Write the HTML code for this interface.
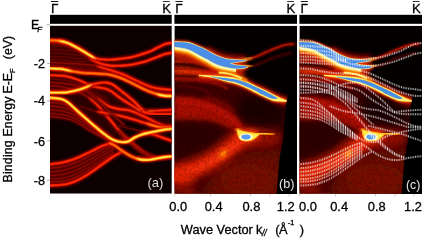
<!DOCTYPE html>
<html><head><meta charset="utf-8"><style>
html,body{margin:0;padding:0;background:#fff;}
body{width:426px;height:240px;overflow:hidden;}
svg{display:block;will-change:transform;}
text{font-family:"Liberation Sans",sans-serif;}
.bk text{stroke:#000;stroke-width:0.3px;}
</style></head><body>
<svg width="426" height="240" viewBox="0 0 426 240">
<defs>
<filter id="grain" x="0" y="0" width="1" height="1"><feTurbulence type="fractalNoise" baseFrequency="0.38" numOctaves="2" seed="5"/><feColorMatrix type="matrix" values="0 0 0 0 0  0 0 0 0 0  0 0 0 0 0  -2.0 0 0 0 1.15"/></filter>
<filter id="bl05" x="-20%" y="-20%" width="140%" height="140%"><feGaussianBlur stdDeviation="0.5"/></filter>
<filter id="bl08" x="-20%" y="-20%" width="140%" height="140%"><feGaussianBlur stdDeviation="0.8"/></filter>
<filter id="bl1" x="-20%" y="-20%" width="140%" height="140%"><feGaussianBlur stdDeviation="0.9"/></filter>
<filter id="bl2" x="-50%" y="-50%" width="200%" height="200%"><feGaussianBlur stdDeviation="2"/></filter>
<filter id="bl4" x="-50%" y="-50%" width="200%" height="200%"><feGaussianBlur stdDeviation="4"/></filter>
<filter id="bl6" x="-50%" y="-50%" width="200%" height="200%"><feGaussianBlur stdDeviation="6"/></filter>
<pattern id="vstripe" x="0.3" y="0" width="1.75" height="20" patternUnits="userSpaceOnUse"><rect width="0.95" height="20" fill="#fff"/></pattern>
<mask id="vst" maskUnits="userSpaceOnUse" x="290" y="20" width="136" height="180"><rect x="290" y="20" width="136" height="180" fill="url(#vstripe)"/></mask>
<clipPath id="ca"><rect x="50" y="25.8" width="121.7" height="167.7"/></clipPath>
<clipPath id="cb"><rect x="174.4" y="25.8" width="122.6" height="168.2"/></clipPath>
<clipPath id="cc"><rect x="299.4" y="25.8" width="122.6" height="168.2"/></clipPath>
<g id="dataB">
<rect x="174.4" y="25.8" width="122.6" height="167.7" fill="#050000"/>
<path d="M174.0,56.0 L205.0,62.0 L232.0,72.0 L252.0,84.0 L272.0,96.0 L288.0,104.0 L286.0,194.0 L174.0,194.0 Z" fill="#3c0200" filter="url(#bl4)"/>
<path d="M174.0,54.0 L200.0,58.0 L220.0,66.0 L232.0,72.0 L222.0,76.0 L205.0,80.0 L174.0,80.0 Z" fill="#a81400" filter="url(#bl2)"/>
<path d="M174.0,96.0C176.7,96.2 184.8,96.3 190.0,97.0C195.2,97.7 200.0,98.5 205.0,100.0C210.0,101.5 215.2,103.7 220.0,106.0C224.8,108.3 230.0,111.0 234.0,114.0C238.0,117.0 242.3,122.3 244.0,124.0L240.0,132.0C237.7,131.2 231.0,128.7 226.0,127.0C221.0,125.3 215.2,123.1 210.0,122.0C204.8,120.9 201.0,120.7 195.0,120.5C189.0,120.3 177.5,120.9 174.0,121.0Z" fill="#a80c04" filter="url(#bl2)"/>
<path d="M174.0,101.0C176.7,101.2 184.8,101.3 190.0,102.0C195.2,102.7 200.0,103.5 205.0,105.0C210.0,106.5 215.5,108.7 220.0,111.0C224.5,113.3 228.3,116.0 232.0,119.0C235.7,122.0 240.3,127.3 242.0,129.0" stroke="#c81408" stroke-width="4" fill="none" filter="url(#bl2)" opacity="0.8"/>
<path d="M205.0,98.0C206.7,98.4 211.5,99.3 215.0,100.5C218.5,101.7 222.5,102.9 226.0,105.0C229.5,107.1 234.3,111.7 236.0,113.0" stroke="#b01000" stroke-width="3" fill="none" filter="url(#bl2)" opacity="0.8"/>
<path d="M174.0,79.0C176.7,79.1 184.8,79.2 190.0,79.5C195.2,79.8 200.3,80.2 205.0,81.0C209.7,81.8 214.2,82.7 218.0,84.0C221.8,85.3 226.3,88.2 228.0,89.0" stroke="#a01000" stroke-width="3" fill="none" filter="url(#bl1)" opacity="0.9"/>
<path d="M174.0,86.0C176.3,86.1 183.7,86.0 188.0,86.5C192.3,87.0 196.0,87.8 200.0,89.0C204.0,90.2 210.0,93.2 212.0,94.0" stroke="#600400" stroke-width="2.5" fill="none" filter="url(#bl1)" opacity="0.8"/>
<path d="M170.0,122.0 L214.0,124.0 L230.0,136.0 L214.0,152.0 L196.0,158.0 L170.0,160.0 Z" fill="#2e0000" filter="url(#bl4)"/>
<ellipse cx="258" cy="138" rx="24" ry="11" fill="#9a0c00" filter="url(#bl4)"/>
<path d="M205.0,185.0 L222.0,166.0 L250.0,152.0 L284.0,148.0 L284.0,200.0 L200.0,200.0 Z" fill="#6a0800" filter="url(#bl6)"/>
<ellipse cx="250" cy="180" rx="30" ry="16" fill="#780a00" filter="url(#bl6)"/>
<path d="M240.0,96.0 L262.0,94.0 L283.0,104.0 L284.0,124.0 L262.0,126.0 L246.0,122.0 L236.0,110.0 Z" fill="#1e0000" filter="url(#bl4)"/>
<path d="M246.0,136.0C244.0,137.3 238.3,140.8 234.0,144.0C229.7,147.2 224.8,151.7 220.0,155.0C215.2,158.3 210.0,161.5 205.0,164.0C200.0,166.5 195.5,168.2 190.0,170.0C184.5,171.8 175.0,174.2 172.0,175.0" stroke="#d41c00" stroke-width="19" fill="none" filter="url(#bl4)"/>
<path d="M242.0,140.0C240.0,141.5 234.2,146.0 230.0,149.0C225.8,152.0 221.7,155.2 217.0,158.0C212.3,160.8 206.8,163.7 202.0,166.0C197.2,168.3 193.0,170.2 188.0,172.0C183.0,173.8 174.7,176.2 172.0,177.0" stroke="#f83008" stroke-width="9" fill="none" filter="url(#bl2)" opacity="0.85"/>
<ellipse cx="182" cy="177" rx="13" ry="10" fill="#e02000" filter="url(#bl4)" opacity="0.9"/>
<ellipse cx="184" cy="192" rx="16" ry="5" fill="#a01000" filter="url(#bl4)" opacity="0.9"/>
<ellipse cx="223" cy="154" rx="6" ry="4" transform="rotate(-40 223 154)" fill="#ff5000" filter="url(#bl2)"/>
<ellipse cx="223.5" cy="153.5" rx="4" ry="1.8" transform="rotate(-45 223.5 153.5)" fill="#ffa000" filter="url(#bl1)" opacity="0.7"/>
<path d="M174.0,52.0C176.0,52.3 182.0,53.0 186.0,54.0C190.0,55.0 194.0,56.3 198.0,58.0C202.0,59.7 206.0,62.0 210.0,64.0C214.0,66.0 217.7,68.5 222.0,70.0C226.3,71.5 233.7,72.5 236.0,73.0" stroke="#d82000" stroke-width="5" fill="none" filter="url(#bl2)"/>
<path d="M174.0,64.0C175.8,64.1 181.0,64.1 185.0,64.5C189.0,64.9 193.8,65.8 198.0,66.5C202.2,67.2 208.0,68.6 210.0,69.0" stroke="#280000" stroke-width="3" fill="none" filter="url(#bl1)"/>
<path d="M174.0,71.0C175.8,71.0 181.3,71.1 185.0,71.3C188.7,71.5 192.2,71.9 196.0,72.3C199.8,72.7 204.3,73.2 208.0,73.6C211.7,74.0 216.3,74.3 218.0,74.5" stroke="#ff3c00" stroke-width="2.2" fill="none" filter="url(#bl1)"/>
<path d="M174.0,75.5C176.3,75.6 183.7,75.7 188.0,76.0C192.3,76.3 198.0,77.2 200.0,77.5" stroke="#300000" stroke-width="2.2" fill="none" filter="url(#bl1)"/>
<path d="M248.0,58.8C249.3,58.5 253.1,57.8 256.0,56.8C258.9,55.8 261.2,54.3 265.2,52.6C269.1,50.9 275.9,48.0 279.7,46.6C283.5,45.2 285.4,44.8 288.0,44.4C290.6,44.0 293.8,44.1 295.0,44.0" stroke="#b00c00" stroke-width="2.8" fill="none" filter="url(#bl1)"/>
<path d="M250.0,58.2C251.0,57.9 253.5,57.6 256.0,56.6C258.5,55.6 261.2,54.1 265.2,52.4C269.1,50.7 275.9,47.8 279.7,46.4C283.5,45.0 285.8,44.7 288.0,44.3C290.2,43.9 292.2,44.0 293.0,44.0" stroke="#e82400" stroke-width="1.0" fill="none" filter="url(#bl05)" opacity="0.7"/>
<path d="M250.0,66.0C251.3,65.8 254.3,65.8 258.0,64.5C261.7,63.2 266.8,59.9 272.4,58.0C278.0,56.1 288.2,53.8 291.4,53.0" stroke="#600600" stroke-width="2" fill="none" filter="url(#bl1)"/>
<rect x="174.4" y="25.8" width="122.6" height="168.2" fill="#000" filter="url(#grain)" opacity="0.3"/>
<path d="M207.0,48.1C208.5,48.9 212.8,51.6 216.0,53.0C219.2,54.4 222.7,55.8 226.0,56.5C229.3,57.2 232.7,57.3 236.0,57.5C239.3,57.7 244.3,57.8 246.0,57.8" stroke="#a00800" stroke-width="4.5" fill="none" filter="url(#bl2)"/>
<path d="M174.0,50.6C176.4,51.1 184.3,51.9 188.6,53.4C192.9,54.9 196.9,57.8 200.0,59.4C203.1,61.0 204.3,61.6 207.0,63.0C209.7,64.4 212.8,66.7 216.0,68.0C219.2,69.3 222.7,70.2 226.0,71.0C229.3,71.8 233.0,72.3 236.0,72.5C239.0,72.7 242.7,72.1 244.0,72.0" stroke="#c81c00" stroke-width="8" fill="none" filter="url(#bl2)"/>
<path d="M174.0,41.9C176.4,42.1 184.3,42.0 188.6,42.9C192.9,43.8 196.9,46.0 200.0,47.3C203.1,48.6 204.3,49.2 207.0,50.6C209.7,52.0 212.8,54.1 216.0,55.5C219.2,56.9 222.7,58.2 226.0,59.0C229.3,59.8 232.7,59.8 236.0,60.0C239.3,60.2 244.3,60.2 246.0,60.3L246.0,60.3C245.3,60.4 243.7,60.9 242.0,61.2C240.3,61.5 238.2,61.6 236.0,62.0C233.8,62.4 230.2,63.3 229.0,63.6L229.0,63.6C230.2,63.9 233.5,64.9 236.0,65.3C238.5,65.7 242.1,65.8 244.0,66.0C245.9,66.2 246.9,66.4 247.5,66.5L247.5,66.5C246.9,66.8 245.9,67.7 244.0,68.0C242.1,68.3 239.0,68.7 236.0,68.5C233.0,68.3 229.3,67.8 226.0,67.0C222.7,66.2 219.2,65.3 216.0,64.0C212.8,62.7 209.7,60.4 207.0,59.0C204.3,57.6 203.1,57.0 200.0,55.4C196.9,53.8 192.9,50.9 188.6,49.4C184.3,47.9 176.4,47.1 174.0,46.6Z" fill="#ff8000" stroke="#e03000" stroke-width="4" stroke-linejoin="round" filter="url(#bl1)"/>
<path d="M174.0,50.0C176.4,50.5 184.3,51.3 188.6,52.8C192.9,54.3 196.9,57.2 200.0,58.8C203.1,60.4 204.3,61.0 207.0,62.4C209.7,63.8 212.8,66.1 216.0,67.4C219.2,68.7 222.7,69.7 226.0,70.4C229.3,71.2 234.3,71.7 236.0,71.9" stroke="#ff9000" stroke-width="4" fill="none" filter="url(#bl1)"/>
<path d="M174.0,48.8C176.4,49.3 184.3,50.1 188.6,51.6C192.9,53.1 196.9,56.0 200.0,57.6C203.1,59.2 204.3,59.8 207.0,61.2C209.7,62.6 212.8,64.9 216.0,66.2C219.2,67.5 222.7,68.5 226.0,69.2C229.3,70.0 234.3,70.5 236.0,70.7" stroke="#ffe060" stroke-width="2.6" fill="none" filter="url(#bl05)"/>
<path d="M174.0,47.6C176.4,48.1 184.3,48.9 188.6,50.4C192.9,51.9 196.9,54.8 200.0,56.4C203.1,58.0 204.3,58.6 207.0,60.0C209.7,61.4 212.8,63.7 216.0,65.0C219.2,66.3 222.7,67.2 226.0,68.0C229.3,68.8 234.3,69.2 236.0,69.5" stroke="#fffad0" stroke-width="2" fill="none"/>
<path d="M174.0,41.9C176.4,42.1 184.3,42.0 188.6,42.9C192.9,43.8 196.9,46.0 200.0,47.3C203.1,48.6 204.3,49.2 207.0,50.6C209.7,52.0 212.8,54.1 216.0,55.5C219.2,56.9 222.7,58.2 226.0,59.0C229.3,59.8 232.7,59.8 236.0,60.0C239.3,60.2 244.3,60.2 246.0,60.3L246.0,60.3C245.3,60.4 243.7,60.9 242.0,61.2C240.3,61.5 238.2,61.6 236.0,62.0C233.8,62.4 230.2,63.3 229.0,63.6L229.0,63.6C230.2,63.9 233.5,64.9 236.0,65.3C238.5,65.7 242.1,65.8 244.0,66.0C245.9,66.2 246.9,66.4 247.5,66.5L247.5,66.5C246.9,66.8 245.9,67.7 244.0,68.0C242.1,68.3 239.0,68.7 236.0,68.5C233.0,68.3 229.3,67.8 226.0,67.0C222.7,66.2 219.2,65.3 216.0,64.0C212.8,62.7 209.7,60.4 207.0,59.0C204.3,57.6 203.1,57.0 200.0,55.4C196.9,53.8 192.9,50.9 188.6,49.4C184.3,47.9 176.4,47.1 174.0,46.6Z" fill="none" stroke="#fff080" stroke-width="1.6" stroke-linejoin="round"/>
<path d="M243.0,59.9C243.8,59.8 246.5,59.3 248.0,59.0C249.5,58.7 251.3,58.2 252.0,58.1" stroke="#ffa020" stroke-width="2.2" fill="none" filter="url(#bl1)"/>
<path d="M243.0,66.6C243.8,66.5 246.5,66.4 248.0,66.3C249.5,66.2 251.3,65.9 252.0,65.8" stroke="#ffa020" stroke-width="2.2" fill="none" filter="url(#bl1)"/>
<path d="M174.0,41.9C176.4,42.1 184.3,42.0 188.6,42.9C192.9,43.8 196.9,46.0 200.0,47.3C203.1,48.6 204.3,49.2 207.0,50.6C209.7,52.0 212.8,54.1 216.0,55.5C219.2,56.9 222.7,58.2 226.0,59.0C229.3,59.8 232.7,59.8 236.0,60.0C239.3,60.2 244.3,60.2 246.0,60.3L246.0,60.3C245.3,60.4 243.7,60.9 242.0,61.2C240.3,61.5 238.2,61.6 236.0,62.0C233.8,62.4 230.2,63.3 229.0,63.6L229.0,63.6C230.2,63.9 233.5,64.9 236.0,65.3C238.5,65.7 242.1,65.8 244.0,66.0C245.9,66.2 246.9,66.4 247.5,66.5L247.5,66.5C246.9,66.8 245.9,67.7 244.0,68.0C242.1,68.3 239.0,68.7 236.0,68.5C233.0,68.3 229.3,67.8 226.0,67.0C222.7,66.2 219.2,65.3 216.0,64.0C212.8,62.7 209.7,60.4 207.0,59.0C204.3,57.6 203.1,57.0 200.0,55.4C196.9,53.8 192.9,50.9 188.6,49.4C184.3,47.9 176.4,47.1 174.0,46.6Z" fill="#4b8ee8" stroke="#4b8ee8" stroke-width="0.3"/>
<path d="M199.0,75.4C201.3,75.6 208.5,76.0 213.0,76.5C217.5,77.0 222.2,77.6 226.0,78.3C229.8,79.0 232.7,79.5 236.0,80.5C239.3,81.5 242.7,82.6 246.0,84.0C249.3,85.4 252.7,87.3 256.0,88.8C259.3,90.3 262.8,91.5 266.0,93.0C269.2,94.5 272.5,96.3 275.0,97.5C277.5,98.7 279.0,99.4 281.0,100.0C283.0,100.6 286.0,101.0 287.0,101.2" stroke="#c01000" stroke-width="9" fill="none" filter="url(#bl2)" opacity="0.9"/>
<path d="M199.0,74.8C201.3,74.9 208.5,75.3 213.0,75.6C217.5,75.9 222.2,76.2 226.0,76.6C229.8,77.0 232.7,77.1 236.0,77.8C239.3,78.5 242.7,79.6 246.0,81.0C249.3,82.4 252.7,84.4 256.0,86.0C259.3,87.6 262.8,89.0 266.0,90.5C269.2,92.0 272.3,93.9 275.0,95.2C277.7,96.5 279.9,97.7 282.0,98.6C284.1,99.5 286.6,100.4 287.5,100.8L287.5,101.8C286.2,101.7 282.6,101.6 280.0,101.4C277.4,101.2 275.2,101.4 272.0,100.4C268.8,99.4 263.7,96.8 261.0,95.6C258.3,94.4 258.5,94.3 256.0,93.0C253.5,91.7 249.3,89.5 246.0,88.0C242.7,86.5 239.3,85.1 236.0,84.0C232.7,82.9 229.8,82.5 226.0,81.5C222.2,80.5 217.5,78.9 213.0,78.0C208.5,77.1 201.3,76.4 199.0,76.1Z" fill="#ff9000" stroke="#ff5000" stroke-width="1.6" stroke-linejoin="round" filter="url(#bl1)"/>
<path d="M199.0,74.8C201.3,74.9 208.5,75.3 213.0,75.6C217.5,75.9 222.2,76.2 226.0,76.6C229.8,77.0 232.7,77.1 236.0,77.8C239.3,78.5 242.7,79.6 246.0,81.0C249.3,82.4 252.7,84.4 256.0,86.0C259.3,87.6 262.8,89.0 266.0,90.5C269.2,92.0 272.3,93.9 275.0,95.2C277.7,96.5 279.9,97.7 282.0,98.6C284.1,99.5 286.6,100.4 287.5,100.8L287.5,101.8C286.2,101.7 282.6,101.6 280.0,101.4C277.4,101.2 275.2,101.4 272.0,100.4C268.8,99.4 263.7,96.8 261.0,95.6C258.3,94.4 258.5,94.3 256.0,93.0C253.5,91.7 249.3,89.5 246.0,88.0C242.7,86.5 239.3,85.1 236.0,84.0C232.7,82.9 229.8,82.5 226.0,81.5C222.2,80.5 217.5,78.9 213.0,78.0C208.5,77.1 201.3,76.4 199.0,76.1Z" fill="#fff070"/>
<path d="M212.0,76.6C212.7,76.7 213.7,77.0 216.0,77.2C218.3,77.4 222.7,77.6 226.0,78.0C229.3,78.4 232.7,78.8 236.0,79.5C239.3,80.2 242.7,81.2 246.0,82.5C249.3,83.8 253.0,85.6 256.0,87.0C259.0,88.4 261.3,89.4 264.0,90.7C266.7,92.0 269.8,93.8 272.0,95.0C274.2,96.2 276.6,97.5 277.5,98.0L277.5,98.6C276.6,98.6 274.8,99.3 272.0,98.5C269.2,97.7 263.7,95.2 261.0,94.0C258.3,92.8 258.5,92.2 256.0,91.0C253.5,89.8 249.3,87.9 246.0,86.5C242.7,85.1 239.3,83.5 236.0,82.5C232.7,81.5 229.3,81.2 226.0,80.5C222.7,79.8 218.3,78.7 216.0,78.2C213.7,77.7 212.7,77.5 212.0,77.3Z" fill="#4b8ee8"/>
<path d="M218.0,72.4C219.0,72.4 222.0,72.4 224.0,72.6C226.0,72.8 228.0,73.3 230.0,73.8C232.0,74.3 234.0,74.9 236.0,75.6C238.0,76.3 240.2,77.3 242.0,78.2C243.8,79.1 246.2,80.5 247.0,81.0" stroke="#ff8000" stroke-width="3.6" fill="none" filter="url(#bl1)"/>
<path d="M219.0,72.6C219.8,72.6 222.2,72.6 224.0,72.8C225.8,73.0 228.0,73.5 230.0,74.0C232.0,74.5 234.0,75.1 236.0,75.9C238.0,76.7 241.0,78.1 242.0,78.6" stroke="#ffe860" stroke-width="1.8" fill="none" filter="url(#bl05)"/>
<path d="M236.0,129.0C237.0,129.5 241.0,131.5 242.0,132.0" stroke="#ff9000" stroke-width="3.5" fill="none" filter="url(#bl1)"/>
<ellipse cx="248" cy="135.5" rx="12" ry="7" fill="#e83000" filter="url(#bl2)"/>
<path d="M255.0,133.6C256.2,133.6 259.8,133.4 262.0,133.4C264.2,133.4 266.0,133.5 268.0,133.6C270.0,133.7 273.0,134.1 274.0,134.2" stroke="#ffa000" stroke-width="3.4" fill="none" filter="url(#bl1)"/>
<path d="M255.0,133.6C256.2,133.6 259.8,133.4 262.0,133.4C264.2,133.4 267.0,133.6 268.0,133.6" stroke="#ffd040" stroke-width="1.6" fill="none" filter="url(#bl05)" opacity="0.8"/>
<path d="M237.0,129.6C237.8,129.8 239.8,130.5 242.0,131.0C244.2,131.5 247.7,132.2 250.0,132.6C252.3,133.0 254.4,133.2 256.0,133.5C257.6,133.8 258.9,134.1 259.5,134.2L259.5,134.2C258.9,134.7 257.3,136.4 256.0,137.4C254.7,138.4 253.2,139.6 251.5,140.2C249.8,140.8 247.8,141.1 246.0,141.0C244.2,140.9 241.8,140.6 240.5,139.6C239.2,138.6 238.4,135.8 238.0,135.0Z" fill="#ffe848" stroke="#ffc020" stroke-width="1" filter="url(#bl05)"/>
<ellipse cx="246" cy="137" rx="6.8" ry="3.6" fill="#fffbd0" filter="url(#bl05)"/>
<ellipse cx="246" cy="137" rx="4.6" ry="2.4" fill="#5a9cf0" filter="url(#bl05)"/>
<path d="M289.0,92.0 L297.5,88.0 L297.5,194.0 L276.5,194.0 L279.5,158.0 L283.0,140.0 L286.3,103.0 Z" fill="#000" filter="url(#bl05)"/>
</g>
<g id="bandsA" fill="none" stroke-linecap="round">
<path d="M50.0,40.3C51.5,40.4 56.0,40.3 59.0,40.8C62.0,41.3 65.1,42.1 68.1,43.2C71.1,44.4 74.1,46.1 77.1,47.7C80.1,49.4 83.2,51.4 86.2,53.1C89.2,54.9 93.7,57.4 95.2,58.2L97.0,61.5C95.8,61.7 92.8,62.1 90.0,62.5C87.2,62.9 84.2,63.5 80.0,63.8C75.8,64.1 70.0,64.4 65.0,64.5C60.0,64.6 52.5,64.5 50.0,64.5Z" fill="#420000" filter="url(#bl1)"/>
<path d="M50.0,42.5C51.5,42.6 56.0,42.5 59.0,43.0C62.0,43.5 65.1,44.3 68.1,45.5C71.1,46.7 74.1,48.3 77.1,50.0C80.1,51.7 83.2,53.9 86.2,55.5C89.2,57.1 93.5,58.8 95.0,59.5" stroke="#b01000" stroke-width="3" fill="none" filter="url(#bl1)"/>
<path d="M50.0,62.5C53.3,62.7 64.2,63.2 70.0,63.5C75.8,63.8 80.8,64.2 85.0,64.5C89.2,64.8 91.8,65.0 95.0,65.6C98.2,66.2 101.0,67.1 104.0,68.0C107.0,68.9 110.0,70.0 113.0,71.0C116.0,72.0 119.0,72.8 122.0,74.0C125.0,75.2 128.2,76.8 131.2,78.2C134.2,79.6 137.2,81.2 140.2,82.5C143.2,83.8 146.0,85.2 149.0,86.2C152.0,87.2 154.4,88.0 158.3,88.6C162.2,89.2 170.1,89.8 172.5,90.0L172.5,96.1C171.2,96.0 167.4,96.1 165.0,95.8C162.6,95.5 160.9,95.2 158.3,94.5C155.7,93.8 152.2,92.7 149.2,91.5C146.2,90.3 143.2,88.8 140.2,87.3C137.2,85.8 134.2,84.3 131.2,82.8C128.2,81.3 125.0,79.7 122.0,78.5C119.0,77.3 116.0,76.2 113.0,75.5C110.0,74.8 107.0,74.3 104.0,74.0C101.0,73.7 98.4,73.7 95.0,73.5C91.6,73.3 87.1,73.3 83.8,73.0C80.5,72.7 78.1,72.3 75.3,71.8C72.5,71.3 69.5,70.6 67.0,70.1C64.5,69.6 62.8,69.1 60.0,68.8C57.2,68.5 51.7,68.5 50.0,68.4Z" fill="#5a0400" filter="url(#bl1)"/>
<path d="M50.0,97.8C51.8,98.0 57.8,98.1 60.8,98.9C63.8,99.7 65.4,100.5 68.1,102.5C70.8,104.5 74.1,108.0 77.1,110.7C80.1,113.4 83.2,116.2 86.2,118.8C89.2,121.4 92.2,124.1 95.2,126.6C98.2,129.1 102.5,132.6 104.0,133.8L108.0,140.6C106.7,139.8 103.0,137.6 100.0,136.0C97.0,134.4 93.3,132.8 90.0,130.8C86.7,128.8 83.3,126.0 80.0,124.2C76.7,122.4 73.3,121.1 70.0,120.0C66.7,118.9 63.3,118.2 60.0,117.8C56.7,117.4 51.7,117.5 50.0,117.5Z" fill="#3e0000" filter="url(#bl1)"/>
<path d="M60.0,86.4C61.7,86.8 67.0,87.7 70.0,88.5C73.0,89.3 75.3,90.2 78.0,91.5C80.7,92.8 83.2,94.2 86.0,96.0C88.8,97.8 92.0,99.8 95.0,102.5C98.0,105.2 101.2,109.2 104.0,112.5C106.8,115.8 109.6,119.1 112.0,122.0C114.4,124.9 117.4,128.7 118.5,130.0L113.1,139.9C111.6,138.9 107.0,136.0 104.0,133.8C101.0,131.6 98.2,129.1 95.2,126.6C92.2,124.1 89.2,121.4 86.2,118.8C83.2,116.2 80.1,113.4 77.1,110.7C74.1,108.0 69.6,103.9 68.1,102.5Z" fill="#2a0000" filter="url(#bl1)"/>
<path d="M100.0,84.0C102.5,84.3 110.0,84.0 115.0,86.0C120.0,88.0 125.0,92.3 130.0,96.0C135.0,99.7 140.0,105.7 145.0,108.0C150.0,110.3 155.5,109.5 160.0,110.0C164.5,110.5 170.0,110.8 172.0,111.0L172.0,128.0C168.3,127.7 156.2,127.0 150.0,126.0C143.8,125.0 140.3,124.0 135.0,122.0C129.7,120.0 123.2,116.7 118.0,114.0C112.8,111.3 107.8,108.3 104.0,106.0C100.2,103.7 96.5,101.0 95.0,100.0Z" fill="#2a0000" filter="url(#bl2)"/>
<path d="M144.8,111.5C146.0,111.3 149.5,110.8 152.0,110.6C154.5,110.3 156.6,110.2 160.0,110.0C163.4,109.8 170.4,109.6 172.5,109.5L172.5,114.5C170.9,114.5 165.9,114.5 163.0,114.5C160.1,114.5 157.5,114.5 155.0,114.3C152.5,114.1 150.0,113.9 148.0,113.5C146.0,113.1 143.8,112.2 143.0,112.0Z" fill="#7a0800" filter="url(#bl05)"/>
<path d="M50.0,164.3C51.7,164.1 57.0,163.5 60.0,163.0C63.0,162.5 65.3,161.9 68.1,161.1C70.9,160.3 74.0,159.2 77.0,158.0C80.0,156.8 83.2,155.2 86.2,153.8C89.2,152.4 92.0,150.9 95.0,149.5C98.0,148.1 101.2,146.6 104.2,145.5C107.2,144.4 111.5,143.6 113.0,143.2L113.0,156.8C111.5,157.8 107.2,160.8 104.2,162.9C101.2,165.0 98.0,167.4 95.0,169.5C92.0,171.6 89.2,173.7 86.2,175.5C83.2,177.3 80.0,179.1 77.0,180.5C74.0,181.9 70.9,182.9 68.1,183.7C65.3,184.4 63.0,184.7 60.0,185.0C57.0,185.3 51.7,185.4 50.0,185.5Z" fill="#420000" filter="url(#bl1)"/>
<path d="M50.0,45.9C52.0,45.9 58.3,46.0 62.0,46.2C65.7,46.4 68.7,46.6 72.0,47.1C75.3,47.6 79.0,47.6 82.0,49.4C85.0,51.2 87.5,56.2 90.0,58.0C92.5,59.8 95.8,59.7 97.0,60.0" stroke="#3e0000" stroke-width="3.2" stroke-opacity="1" filter="url(#bl08)"/>
<path d="M50.0,45.9C52.0,45.9 58.3,46.0 62.0,46.2C65.7,46.4 68.7,46.6 72.0,47.1C75.3,47.6 79.0,47.6 82.0,49.4C85.0,51.2 87.5,56.2 90.0,58.0C92.5,59.8 95.8,59.7 97.0,60.0" stroke="#6a0400" stroke-width="1.3" stroke-opacity="0.9"/>
<path d="M50.0,49.5C52.0,49.5 58.3,49.6 62.0,49.8C65.7,50.0 68.7,50.3 72.0,50.8C75.3,51.3 79.0,51.3 82.0,52.6C85.0,53.9 87.5,57.3 90.0,58.6C92.5,59.9 95.8,60.2 97.0,60.5" stroke="#3e0000" stroke-width="3.2" stroke-opacity="1" filter="url(#bl08)"/>
<path d="M50.0,49.5C52.0,49.5 58.3,49.6 62.0,49.8C65.7,50.0 68.7,50.3 72.0,50.8C75.3,51.3 79.0,51.3 82.0,52.6C85.0,53.9 87.5,57.3 90.0,58.6C92.5,59.9 95.8,60.2 97.0,60.5" stroke="#6a0400" stroke-width="1.3" stroke-opacity="0.9"/>
<path d="M50.0,53.1C52.0,53.1 58.3,53.2 62.0,53.4C65.7,53.6 68.7,54.1 72.0,54.5C75.3,54.9 79.0,55.0 82.0,55.8C85.0,56.6 87.5,58.3 90.0,59.2C92.5,60.1 95.8,60.7 97.0,61.0" stroke="#3e0000" stroke-width="3.2" stroke-opacity="1" filter="url(#bl08)"/>
<path d="M50.0,53.1C52.0,53.1 58.3,53.2 62.0,53.4C65.7,53.6 68.7,54.1 72.0,54.5C75.3,54.9 79.0,55.0 82.0,55.8C85.0,56.6 87.5,58.3 90.0,59.2C92.5,60.1 95.8,60.7 97.0,61.0" stroke="#6a0400" stroke-width="1.3" stroke-opacity="0.9"/>
<path d="M50.0,56.4C52.0,56.4 58.3,56.4 62.0,56.7C65.7,56.9 68.7,57.6 72.0,57.9C75.3,58.2 79.0,58.4 82.0,58.7C85.0,59.0 87.5,59.3 90.0,59.8C92.5,60.3 95.8,61.2 97.0,61.5" stroke="#3e0000" stroke-width="3.2" stroke-opacity="1" filter="url(#bl08)"/>
<path d="M50.0,56.4C52.0,56.4 58.3,56.4 62.0,56.7C65.7,56.9 68.7,57.6 72.0,57.9C75.3,58.2 79.0,58.4 82.0,58.7C85.0,59.0 87.5,59.3 90.0,59.8C92.5,60.3 95.8,61.2 97.0,61.5" stroke="#6a0400" stroke-width="1.3" stroke-opacity="0.9"/>
<path d="M50.0,59.5C52.0,59.5 58.3,59.5 62.0,59.8C65.7,60.1 68.7,60.8 72.0,61.1C75.3,61.4 79.0,61.5 82.0,61.4C85.0,61.3 87.5,60.3 90.0,60.4C92.5,60.5 95.8,61.7 97.0,62.0" stroke="#3e0000" stroke-width="3.2" stroke-opacity="1" filter="url(#bl08)"/>
<path d="M50.0,59.5C52.0,59.5 58.3,59.5 62.0,59.8C65.7,60.1 68.7,60.8 72.0,61.1C75.3,61.4 79.0,61.5 82.0,61.4C85.0,61.3 87.5,60.3 90.0,60.4C92.5,60.5 95.8,61.7 97.0,62.0" stroke="#6a0400" stroke-width="1.3" stroke-opacity="0.9"/>
<path d="M50.0,102.5C51.7,102.7 56.7,102.8 60.0,103.5C63.3,104.2 66.7,104.9 70.0,106.5C73.3,108.1 76.7,110.4 80.0,113.0C83.3,115.6 86.7,119.2 90.0,122.0C93.3,124.8 97.0,127.5 100.0,130.0C103.0,132.5 106.7,135.8 108.0,137.0" stroke="#5a0000" stroke-width="3.4" stroke-opacity="1" filter="url(#bl08)"/>
<path d="M50.0,102.5C51.7,102.7 56.7,102.8 60.0,103.5C63.3,104.2 66.7,104.9 70.0,106.5C73.3,108.1 76.7,110.4 80.0,113.0C83.3,115.6 86.7,119.2 90.0,122.0C93.3,124.8 97.0,127.5 100.0,130.0C103.0,132.5 106.7,135.8 108.0,137.0" stroke="#900a00" stroke-width="1.5" stroke-opacity="0.9"/>
<path d="M50.0,106.1C51.7,106.3 56.7,106.5 60.0,107.1C63.3,107.7 66.7,108.3 70.0,109.8C73.3,111.2 76.7,113.4 80.0,115.8C83.3,118.2 86.7,121.6 90.0,124.2C93.3,126.8 97.0,129.2 100.0,131.5C103.0,133.8 106.7,136.8 108.0,137.8" stroke="#5a0000" stroke-width="3.4" stroke-opacity="1" filter="url(#bl08)"/>
<path d="M50.0,106.1C51.7,106.3 56.7,106.5 60.0,107.1C63.3,107.7 66.7,108.3 70.0,109.8C73.3,111.2 76.7,113.4 80.0,115.8C83.3,118.2 86.7,121.6 90.0,124.2C93.3,126.8 97.0,129.2 100.0,131.5C103.0,133.8 106.7,136.8 108.0,137.8" stroke="#900a00" stroke-width="1.5" stroke-opacity="0.9"/>
<path d="M50.0,109.8C51.7,110.0 56.7,110.2 60.0,110.8C63.3,111.4 66.7,111.9 70.0,113.2C73.3,114.5 76.7,116.4 80.0,118.6C83.3,120.8 86.7,124.0 90.0,126.4C93.3,128.8 97.0,131.0 100.0,133.0C103.0,135.0 106.7,137.7 108.0,138.6" stroke="#5a0000" stroke-width="3.4" stroke-opacity="1" filter="url(#bl08)"/>
<path d="M50.0,109.8C51.7,110.0 56.7,110.2 60.0,110.8C63.3,111.4 66.7,111.9 70.0,113.2C73.3,114.5 76.7,116.4 80.0,118.6C83.3,120.8 86.7,124.0 90.0,126.4C93.3,128.8 97.0,131.0 100.0,133.0C103.0,135.0 106.7,137.7 108.0,138.6" stroke="#900a00" stroke-width="1.5" stroke-opacity="0.9"/>
<path d="M50.0,113.4C51.7,113.6 56.7,113.9 60.0,114.4C63.3,114.9 66.7,115.3 70.0,116.5C73.3,117.7 76.7,119.4 80.0,121.4C83.3,123.4 86.7,126.4 90.0,128.6C93.3,130.8 97.0,132.7 100.0,134.5C103.0,136.3 106.7,138.6 108.0,139.4" stroke="#5a0000" stroke-width="3.4" stroke-opacity="1" filter="url(#bl08)"/>
<path d="M50.0,113.4C51.7,113.6 56.7,113.9 60.0,114.4C63.3,114.9 66.7,115.3 70.0,116.5C73.3,117.7 76.7,119.4 80.0,121.4C83.3,123.4 86.7,126.4 90.0,128.6C93.3,130.8 97.0,132.7 100.0,134.5C103.0,136.3 106.7,138.6 108.0,139.4" stroke="#900a00" stroke-width="1.5" stroke-opacity="0.9"/>
<path d="M50.0,116.6C51.7,116.8 56.7,117.1 60.0,117.6C63.3,118.1 66.7,118.3 70.0,119.4C73.3,120.5 76.7,122.3 80.0,124.2C83.3,126.1 86.7,128.8 90.0,130.8C93.3,132.8 97.0,134.4 100.0,136.0C103.0,137.6 106.7,139.5 108.0,140.2" stroke="#5a0000" stroke-width="3.4" stroke-opacity="1" filter="url(#bl08)"/>
<path d="M50.0,116.6C51.7,116.8 56.7,117.1 60.0,117.6C63.3,118.1 66.7,118.3 70.0,119.4C73.3,120.5 76.7,122.3 80.0,124.2C83.3,126.1 86.7,128.8 90.0,130.8C93.3,132.8 97.0,134.4 100.0,136.0C103.0,137.6 106.7,139.5 108.0,140.2" stroke="#900a00" stroke-width="1.5" stroke-opacity="0.9"/>
<path d="M50.0,79.2C51.7,79.3 56.7,79.3 60.0,79.7C63.3,80.1 66.7,80.6 70.0,81.4C73.3,82.2 76.7,83.4 80.0,84.7C83.3,86.0 86.7,87.6 90.0,89.2C93.3,90.8 97.0,92.5 100.0,94.2C103.0,95.9 106.7,98.4 108.0,99.2" stroke="#3e0000" stroke-width="3.2" stroke-opacity="1" filter="url(#bl08)"/>
<path d="M50.0,79.2C51.7,79.3 56.7,79.3 60.0,79.7C63.3,80.1 66.7,80.6 70.0,81.4C73.3,82.2 76.7,83.4 80.0,84.7C83.3,86.0 86.7,87.6 90.0,89.2C93.3,90.8 97.0,92.5 100.0,94.2C103.0,95.9 106.7,98.4 108.0,99.2" stroke="#6a0400" stroke-width="1.3" stroke-opacity="0.9"/>
<path d="M50.0,83.0C51.7,83.1 56.7,83.1 60.0,83.5C63.3,83.9 66.7,84.5 70.0,85.2C73.3,85.9 76.7,86.8 80.0,87.9C83.3,89.0 86.7,90.4 90.0,91.8C93.3,93.2 97.0,94.7 100.0,96.2C103.0,97.7 106.7,99.9 108.0,100.6" stroke="#3e0000" stroke-width="3.2" stroke-opacity="1" filter="url(#bl08)"/>
<path d="M50.0,83.0C51.7,83.1 56.7,83.1 60.0,83.5C63.3,83.9 66.7,84.5 70.0,85.2C73.3,85.9 76.7,86.8 80.0,87.9C83.3,89.0 86.7,90.4 90.0,91.8C93.3,93.2 97.0,94.7 100.0,96.2C103.0,97.7 106.7,99.9 108.0,100.6" stroke="#6a0400" stroke-width="1.3" stroke-opacity="0.9"/>
<path d="M50.0,86.6C51.7,86.7 56.7,86.7 60.0,87.1C63.3,87.5 66.7,88.2 70.0,88.8C73.3,89.4 76.7,90.0 80.0,90.9C83.3,91.8 86.7,93.0 90.0,94.2C93.3,95.4 97.0,96.7 100.0,98.0C103.0,99.3 106.7,101.2 108.0,101.8" stroke="#3e0000" stroke-width="3.2" stroke-opacity="1" filter="url(#bl08)"/>
<path d="M50.0,86.6C51.7,86.7 56.7,86.7 60.0,87.1C63.3,87.5 66.7,88.2 70.0,88.8C73.3,89.4 76.7,90.0 80.0,90.9C83.3,91.8 86.7,93.0 90.0,94.2C93.3,95.4 97.0,96.7 100.0,98.0C103.0,99.3 106.7,101.2 108.0,101.8" stroke="#6a0400" stroke-width="1.3" stroke-opacity="0.9"/>
<path d="M50.0,89.6C51.7,89.7 56.7,89.7 60.0,90.1C63.3,90.5 66.7,91.3 70.0,91.8C73.3,92.3 76.7,92.6 80.0,93.3C83.3,94.0 86.7,95.0 90.0,96.0C93.3,97.0 97.0,98.1 100.0,99.2C103.0,100.3 106.7,101.9 108.0,102.4" stroke="#3e0000" stroke-width="3.2" stroke-opacity="1" filter="url(#bl08)"/>
<path d="M50.0,89.6C51.7,89.7 56.7,89.7 60.0,90.1C63.3,90.5 66.7,91.3 70.0,91.8C73.3,92.3 76.7,92.6 80.0,93.3C83.3,94.0 86.7,95.0 90.0,96.0C93.3,97.0 97.0,98.1 100.0,99.2C103.0,100.3 106.7,101.9 108.0,102.4" stroke="#6a0400" stroke-width="1.3" stroke-opacity="0.9"/>
<path d="M50.0,168.3C51.7,168.1 57.0,167.7 60.0,167.2C63.0,166.7 65.3,166.2 68.1,165.4C70.9,164.6 74.0,163.5 77.0,162.3C80.0,161.0 83.2,159.4 86.2,157.9C89.2,156.4 92.0,154.8 95.0,153.3C98.0,151.8 101.2,150.1 104.2,148.8C107.2,147.6 111.5,146.3 113.0,145.8" stroke="#5a0000" stroke-width="3.4" stroke-opacity="1" filter="url(#bl08)"/>
<path d="M50.0,168.3C51.7,168.1 57.0,167.7 60.0,167.2C63.0,166.7 65.3,166.2 68.1,165.4C70.9,164.6 74.0,163.5 77.0,162.3C80.0,161.0 83.2,159.4 86.2,157.9C89.2,156.4 92.0,154.8 95.0,153.3C98.0,151.8 101.2,150.1 104.2,148.8C107.2,147.6 111.5,146.3 113.0,145.8" stroke="#900a00" stroke-width="1.5" stroke-opacity="0.9"/>
<path d="M50.0,171.9C51.7,171.8 57.0,171.4 60.0,170.9C63.0,170.5 65.3,170.0 68.1,169.2C70.9,168.4 74.0,167.4 77.0,166.1C80.0,164.8 83.2,163.2 86.2,161.6C89.2,160.0 92.0,158.3 95.0,156.7C98.0,155.1 101.2,153.2 104.2,151.8C107.2,150.3 111.5,148.7 113.0,148.1" stroke="#5a0000" stroke-width="3.4" stroke-opacity="1" filter="url(#bl08)"/>
<path d="M50.0,171.9C51.7,171.8 57.0,171.4 60.0,170.9C63.0,170.5 65.3,170.0 68.1,169.2C70.9,168.4 74.0,167.4 77.0,166.1C80.0,164.8 83.2,163.2 86.2,161.6C89.2,160.0 92.0,158.3 95.0,156.7C98.0,155.1 101.2,153.2 104.2,151.8C107.2,150.3 111.5,148.7 113.0,148.1" stroke="#900a00" stroke-width="1.5" stroke-opacity="0.9"/>
<path d="M50.0,175.5C51.7,175.4 57.0,175.1 60.0,174.7C63.0,174.3 65.3,173.9 68.1,173.1C70.9,172.3 74.0,171.2 77.0,169.9C80.0,168.6 83.2,166.9 86.2,165.3C89.2,163.7 92.0,161.9 95.0,160.1C98.0,158.3 101.2,156.3 104.2,154.7C107.2,153.1 111.5,151.1 113.0,150.4" stroke="#5a0000" stroke-width="3.4" stroke-opacity="1" filter="url(#bl08)"/>
<path d="M50.0,175.5C51.7,175.4 57.0,175.1 60.0,174.7C63.0,174.3 65.3,173.9 68.1,173.1C70.9,172.3 74.0,171.2 77.0,169.9C80.0,168.6 83.2,166.9 86.2,165.3C89.2,163.7 92.0,161.9 95.0,160.1C98.0,158.3 101.2,156.3 104.2,154.7C107.2,153.1 111.5,151.1 113.0,150.4" stroke="#900a00" stroke-width="1.5" stroke-opacity="0.9"/>
<path d="M50.0,179.1C51.7,179.0 57.0,178.8 60.0,178.4C63.0,178.0 65.3,177.7 68.1,176.9C70.9,176.1 74.0,175.1 77.0,173.8C80.0,172.4 83.2,170.7 86.2,169.0C89.2,167.3 92.0,165.4 95.0,163.5C98.0,161.6 101.2,159.5 104.2,157.7C107.2,155.9 111.5,153.5 113.0,152.7" stroke="#5a0000" stroke-width="3.4" stroke-opacity="1" filter="url(#bl08)"/>
<path d="M50.0,179.1C51.7,179.0 57.0,178.8 60.0,178.4C63.0,178.0 65.3,177.7 68.1,176.9C70.9,176.1 74.0,175.1 77.0,173.8C80.0,172.4 83.2,170.7 86.2,169.0C89.2,167.3 92.0,165.4 95.0,163.5C98.0,161.6 101.2,159.5 104.2,157.7C107.2,155.9 111.5,153.5 113.0,152.7" stroke="#900a00" stroke-width="1.5" stroke-opacity="0.9"/>
<path d="M50.0,181.9C51.7,181.8 57.0,181.6 60.0,181.3C63.0,180.9 65.3,180.6 68.1,179.9C70.9,179.1 74.0,178.0 77.0,176.7C80.0,175.3 83.2,173.6 86.2,171.8C89.2,170.0 92.0,168.1 95.0,166.1C98.0,164.1 101.2,161.9 104.2,159.9C107.2,158.0 111.5,155.4 113.0,154.5" stroke="#5a0000" stroke-width="3.4" stroke-opacity="1" filter="url(#bl08)"/>
<path d="M50.0,181.9C51.7,181.8 57.0,181.6 60.0,181.3C63.0,180.9 65.3,180.6 68.1,179.9C70.9,179.1 74.0,178.0 77.0,176.7C80.0,175.3 83.2,173.6 86.2,171.8C89.2,170.0 92.0,168.1 95.0,166.1C98.0,164.1 101.2,161.9 104.2,159.9C107.2,158.0 111.5,155.4 113.0,154.5" stroke="#900a00" stroke-width="1.5" stroke-opacity="0.9"/>
<path d="M50.0,85.6C51.7,85.7 56.7,85.9 60.0,86.4C63.3,86.9 67.0,87.7 70.0,88.5C73.0,89.3 75.3,90.2 78.0,91.5C80.7,92.8 83.2,94.2 86.0,96.0C88.8,97.8 92.0,99.8 95.0,102.5C98.0,105.2 101.2,109.2 104.0,112.5C106.8,115.8 109.6,119.1 112.0,122.0C114.4,124.9 116.5,127.7 118.5,130.0C120.5,132.3 122.2,134.2 124.0,136.0C125.8,137.8 127.3,138.7 129.4,140.5C131.5,142.3 133.9,144.9 136.6,147.1C139.3,149.3 142.6,151.9 145.6,153.6C148.6,155.3 153.2,156.8 154.7,157.5" stroke="#5a0000" stroke-width="3.4" stroke-opacity="1" filter="url(#bl08)"/>
<path d="M50.0,85.6C51.7,85.7 56.7,85.9 60.0,86.4C63.3,86.9 67.0,87.7 70.0,88.5C73.0,89.3 75.3,90.2 78.0,91.5C80.7,92.8 83.2,94.2 86.0,96.0C88.8,97.8 92.0,99.8 95.0,102.5C98.0,105.2 101.2,109.2 104.0,112.5C106.8,115.8 109.6,119.1 112.0,122.0C114.4,124.9 116.5,127.7 118.5,130.0C120.5,132.3 122.2,134.2 124.0,136.0C125.8,137.8 127.3,138.7 129.4,140.5C131.5,142.3 133.9,144.9 136.6,147.1C139.3,149.3 142.6,151.9 145.6,153.6C148.6,155.3 153.2,156.8 154.7,157.5" stroke="#900a00" stroke-width="1.5" stroke-opacity="0.9"/>
<g mask="url(#hm1)">
<path d="M78.0,91.5C79.3,92.2 83.2,94.2 86.0,96.0C88.8,97.8 92.0,99.8 95.0,102.5C98.0,105.2 101.2,109.2 104.0,112.5C106.8,115.8 109.6,119.1 112.0,122.0C114.4,124.9 116.5,127.7 118.5,130.0C120.5,132.3 122.2,134.2 124.0,136.0C125.8,137.8 127.3,138.7 129.4,140.5C131.5,142.3 133.9,144.9 136.6,147.1C139.3,149.3 142.6,151.9 145.6,153.6C148.6,155.3 153.2,156.8 154.7,157.5" stroke="#a00000" stroke-width="4.6" stroke-opacity="0.9" filter="url(#bl1)"/>
<path d="M78.0,91.5C79.3,92.2 83.2,94.2 86.0,96.0C88.8,97.8 92.0,99.8 95.0,102.5C98.0,105.2 101.2,109.2 104.0,112.5C106.8,115.8 109.6,119.1 112.0,122.0C114.4,124.9 116.5,127.7 118.5,130.0C120.5,132.3 122.2,134.2 124.0,136.0C125.8,137.8 127.3,138.7 129.4,140.5C131.5,142.3 133.9,144.9 136.6,147.1C139.3,149.3 142.6,151.9 145.6,153.6C148.6,155.3 153.2,156.8 154.7,157.5" stroke="#e81800" stroke-width="2.6" stroke-opacity="1" filter="url(#bl05)"/>
<path d="M78.0,91.5C79.3,92.2 83.2,94.2 86.0,96.0C88.8,97.8 92.0,99.8 95.0,102.5C98.0,105.2 101.2,109.2 104.0,112.5C106.8,115.8 109.6,119.1 112.0,122.0C114.4,124.9 116.5,127.7 118.5,130.0C120.5,132.3 122.2,134.2 124.0,136.0C125.8,137.8 127.3,138.7 129.4,140.5C131.5,142.3 133.9,144.9 136.6,147.1C139.3,149.3 142.6,151.9 145.6,153.6C148.6,155.3 153.2,156.8 154.7,157.5" stroke="#ff3000" stroke-width="1.1" stroke-opacity="1"/>
</g>
<path d="M50.0,82.3C52.5,82.5 60.0,82.8 65.0,83.5C70.0,84.2 75.8,85.1 80.0,86.5C84.2,87.9 87.2,90.1 90.0,92.0C92.8,93.9 94.0,95.7 97.0,98.0C100.0,100.3 104.2,104.1 108.0,106.0C111.8,107.9 116.4,108.5 120.0,109.2C123.6,110.0 126.3,109.6 129.7,110.5C133.1,111.4 137.1,113.3 140.5,114.8C143.9,116.3 147.1,118.0 150.0,119.5C152.9,121.0 155.5,122.4 158.0,123.5C160.5,124.6 162.6,125.5 165.0,126.0C167.4,126.5 171.2,126.7 172.5,126.8" stroke="#5a0000" stroke-width="3.4" stroke-opacity="1" filter="url(#bl08)"/>
<path d="M50.0,82.3C52.5,82.5 60.0,82.8 65.0,83.5C70.0,84.2 75.8,85.1 80.0,86.5C84.2,87.9 87.2,90.1 90.0,92.0C92.8,93.9 94.0,95.7 97.0,98.0C100.0,100.3 104.2,104.1 108.0,106.0C111.8,107.9 116.4,108.5 120.0,109.2C123.6,110.0 126.3,109.6 129.7,110.5C133.1,111.4 137.1,113.3 140.5,114.8C143.9,116.3 147.1,118.0 150.0,119.5C152.9,121.0 155.5,122.4 158.0,123.5C160.5,124.6 162.6,125.5 165.0,126.0C167.4,126.5 171.2,126.7 172.5,126.8" stroke="#900a00" stroke-width="1.5" stroke-opacity="0.9"/>
<g mask="url(#hm3)">
<path d="M90.0,92.0C91.2,93.0 94.0,95.7 97.0,98.0C100.0,100.3 104.2,104.1 108.0,106.0C111.8,107.9 116.4,108.5 120.0,109.2C123.6,110.0 126.3,109.6 129.7,110.5C133.1,111.4 137.1,113.3 140.5,114.8C143.9,116.3 147.1,118.0 150.0,119.5C152.9,121.0 155.5,122.4 158.0,123.5C160.5,124.6 162.6,125.5 165.0,126.0C167.4,126.5 171.2,126.7 172.5,126.8" stroke="#a00000" stroke-width="4.6" stroke-opacity="0.9" filter="url(#bl1)"/>
<path d="M90.0,92.0C91.2,93.0 94.0,95.7 97.0,98.0C100.0,100.3 104.2,104.1 108.0,106.0C111.8,107.9 116.4,108.5 120.0,109.2C123.6,110.0 126.3,109.6 129.7,110.5C133.1,111.4 137.1,113.3 140.5,114.8C143.9,116.3 147.1,118.0 150.0,119.5C152.9,121.0 155.5,122.4 158.0,123.5C160.5,124.6 162.6,125.5 165.0,126.0C167.4,126.5 171.2,126.7 172.5,126.8" stroke="#e81800" stroke-width="2.6" stroke-opacity="1" filter="url(#bl05)"/>
<path d="M90.0,92.0C91.2,93.0 94.0,95.7 97.0,98.0C100.0,100.3 104.2,104.1 108.0,106.0C111.8,107.9 116.4,108.5 120.0,109.2C123.6,110.0 126.3,109.6 129.7,110.5C133.1,111.4 137.1,113.3 140.5,114.8C143.9,116.3 147.1,118.0 150.0,119.5C152.9,121.0 155.5,122.4 158.0,123.5C160.5,124.6 162.6,125.5 165.0,126.0C167.4,126.5 171.2,126.7 172.5,126.8" stroke="#ff3000" stroke-width="1.1" stroke-opacity="1"/>
</g>
<path d="M80.0,106.0C81.3,106.5 85.5,108.1 88.0,109.0C90.5,109.9 92.3,110.7 95.0,111.3C97.7,111.9 101.0,112.3 104.0,112.8C107.0,113.3 110.0,113.6 113.0,114.2C116.0,114.8 119.0,115.5 122.0,116.3C125.0,117.0 128.2,117.8 131.2,118.7C134.2,119.6 137.0,120.6 140.0,121.5C143.0,122.4 146.1,123.3 149.2,124.2C152.2,125.1 155.7,126.4 158.3,126.9C160.9,127.4 162.6,127.2 165.0,127.2C167.4,127.2 171.2,127.2 172.5,127.2" stroke="#3e0000" stroke-width="3.2" stroke-opacity="1" filter="url(#bl08)"/>
<path d="M80.0,106.0C81.3,106.5 85.5,108.1 88.0,109.0C90.5,109.9 92.3,110.7 95.0,111.3C97.7,111.9 101.0,112.3 104.0,112.8C107.0,113.3 110.0,113.6 113.0,114.2C116.0,114.8 119.0,115.5 122.0,116.3C125.0,117.0 128.2,117.8 131.2,118.7C134.2,119.6 137.0,120.6 140.0,121.5C143.0,122.4 146.1,123.3 149.2,124.2C152.2,125.1 155.7,126.4 158.3,126.9C160.9,127.4 162.6,127.2 165.0,127.2C167.4,127.2 171.2,127.2 172.5,127.2" stroke="#6a0400" stroke-width="1.3" stroke-opacity="0.9"/>
<g mask="url(#hm5)">
<path d="M88.0,109.0C89.2,109.4 92.3,110.7 95.0,111.3C97.7,111.9 101.0,112.3 104.0,112.8C107.0,113.3 110.0,113.6 113.0,114.2C116.0,114.8 119.0,115.5 122.0,116.3C125.0,117.0 128.2,117.8 131.2,118.7C134.2,119.6 137.0,120.6 140.0,121.5C143.0,122.4 146.1,123.3 149.2,124.2C152.2,125.1 155.7,126.4 158.3,126.9C160.9,127.4 163.9,127.2 165.0,127.2" stroke="#a00000" stroke-width="4.6" stroke-opacity="0.9" filter="url(#bl1)"/>
<path d="M88.0,109.0C89.2,109.4 92.3,110.7 95.0,111.3C97.7,111.9 101.0,112.3 104.0,112.8C107.0,113.3 110.0,113.6 113.0,114.2C116.0,114.8 119.0,115.5 122.0,116.3C125.0,117.0 128.2,117.8 131.2,118.7C134.2,119.6 137.0,120.6 140.0,121.5C143.0,122.4 146.1,123.3 149.2,124.2C152.2,125.1 155.7,126.4 158.3,126.9C160.9,127.4 163.9,127.2 165.0,127.2" stroke="#e81800" stroke-width="2.6" stroke-opacity="1" filter="url(#bl05)"/>
<path d="M88.0,109.0C89.2,109.4 92.3,110.7 95.0,111.3C97.7,111.9 101.0,112.3 104.0,112.8C107.0,113.3 110.0,113.6 113.0,114.2C116.0,114.8 119.0,115.5 122.0,116.3C125.0,117.0 128.2,117.8 131.2,118.7C134.2,119.6 137.0,120.6 140.0,121.5C143.0,122.4 146.1,123.3 149.2,124.2C152.2,125.1 155.7,126.4 158.3,126.9C160.9,127.4 163.9,127.2 165.0,127.2" stroke="#ff3000" stroke-width="1.1" stroke-opacity="1"/>
</g>
<g mask="url(#hm7)">
<path d="M140.0,121.5C141.5,122.0 146.1,123.3 149.2,124.2C152.2,125.1 155.7,126.4 158.3,126.9C160.9,127.4 162.6,127.2 165.0,127.2C167.4,127.2 171.2,127.2 172.5,127.2" stroke="#c00800" stroke-width="5.0" stroke-opacity="0.9" filter="url(#bl1)"/>
<path d="M140.0,121.5C141.5,122.0 146.1,123.3 149.2,124.2C152.2,125.1 155.7,126.4 158.3,126.9C160.9,127.4 162.6,127.2 165.0,127.2C167.4,127.2 171.2,127.2 172.5,127.2" stroke="#ff3000" stroke-width="3.0" stroke-opacity="1" filter="url(#bl05)"/>
<path d="M140.0,121.5C141.5,122.0 146.1,123.3 149.2,124.2C152.2,125.1 155.7,126.4 158.3,126.9C160.9,127.4 162.6,127.2 165.0,127.2C167.4,127.2 171.2,127.2 172.5,127.2" stroke="#ff7800" stroke-width="1.6" stroke-opacity="1"/>
</g>
<path d="M80.0,84.5C81.0,85.4 84.0,88.1 86.0,90.0C88.0,91.9 89.7,93.8 92.0,96.0C94.3,98.2 97.7,100.9 100.0,103.0C102.3,105.1 103.9,106.6 106.0,108.5C108.1,110.4 110.5,112.6 112.5,114.4C114.5,116.2 116.1,117.7 118.0,119.5C119.9,121.3 123.0,124.1 124.0,125.0" stroke="#5a0000" stroke-width="3.4" stroke-opacity="1" filter="url(#bl08)"/>
<path d="M80.0,84.5C81.0,85.4 84.0,88.1 86.0,90.0C88.0,91.9 89.7,93.8 92.0,96.0C94.3,98.2 97.7,100.9 100.0,103.0C102.3,105.1 103.9,106.6 106.0,108.5C108.1,110.4 110.5,112.6 112.5,114.4C114.5,116.2 116.1,117.7 118.0,119.5C119.9,121.3 123.0,124.1 124.0,125.0" stroke="#900a00" stroke-width="1.5" stroke-opacity="0.9"/>
<path d="M50.0,75.2C51.7,75.3 57.2,75.4 60.0,75.6C62.8,75.8 64.5,75.9 67.0,76.4C69.5,77.0 72.5,77.9 75.3,78.9C78.1,79.9 81.3,81.2 83.8,82.3C86.2,83.4 87.2,84.6 90.0,85.5C92.8,86.4 98.1,87.2 100.8,87.8C103.5,88.4 104.5,88.4 106.3,89.0C108.1,89.6 109.9,90.4 111.7,91.5C113.5,92.6 115.2,94.2 117.0,95.6C118.8,96.9 120.4,98.2 122.5,99.6C124.6,101.0 127.1,102.4 129.7,104.0C132.3,105.6 135.8,108.0 138.3,109.3C140.8,110.6 142.5,111.7 144.8,112.0C147.1,112.3 149.5,111.5 152.0,111.2C154.5,111.0 156.6,110.8 160.0,110.5C163.4,110.2 170.4,109.8 172.5,109.7" stroke="#a00000" stroke-width="4.6" stroke-opacity="0.9" filter="url(#bl1)"/>
<path d="M50.0,75.2C51.7,75.3 57.2,75.4 60.0,75.6C62.8,75.8 64.5,75.9 67.0,76.4C69.5,77.0 72.5,77.9 75.3,78.9C78.1,79.9 81.3,81.2 83.8,82.3C86.2,83.4 87.2,84.6 90.0,85.5C92.8,86.4 98.1,87.2 100.8,87.8C103.5,88.4 104.5,88.4 106.3,89.0C108.1,89.6 109.9,90.4 111.7,91.5C113.5,92.6 115.2,94.2 117.0,95.6C118.8,96.9 120.4,98.2 122.5,99.6C124.6,101.0 127.1,102.4 129.7,104.0C132.3,105.6 135.8,108.0 138.3,109.3C140.8,110.6 142.5,111.7 144.8,112.0C147.1,112.3 149.5,111.5 152.0,111.2C154.5,111.0 156.6,110.8 160.0,110.5C163.4,110.2 170.4,109.8 172.5,109.7" stroke="#e81800" stroke-width="2.6" stroke-opacity="1" filter="url(#bl05)"/>
<path d="M50.0,75.2C51.7,75.3 57.2,75.4 60.0,75.6C62.8,75.8 64.5,75.9 67.0,76.4C69.5,77.0 72.5,77.9 75.3,78.9C78.1,79.9 81.3,81.2 83.8,82.3C86.2,83.4 87.2,84.6 90.0,85.5C92.8,86.4 98.1,87.2 100.8,87.8C103.5,88.4 104.5,88.4 106.3,89.0C108.1,89.6 109.9,90.4 111.7,91.5C113.5,92.6 115.2,94.2 117.0,95.6C118.8,96.9 120.4,98.2 122.5,99.6C124.6,101.0 127.1,102.4 129.7,104.0C132.3,105.6 135.8,108.0 138.3,109.3C140.8,110.6 142.5,111.7 144.8,112.0C147.1,112.3 149.5,111.5 152.0,111.2C154.5,111.0 156.6,110.8 160.0,110.5C163.4,110.2 170.4,109.8 172.5,109.7" stroke="#ff3000" stroke-width="1.1" stroke-opacity="1"/>
<g mask="url(#hm9)">
<path d="M129.7,104.0C131.1,104.9 135.8,108.0 138.3,109.3C140.8,110.6 142.5,111.7 144.8,112.0C147.1,112.3 149.5,111.5 152.0,111.2C154.5,111.0 158.7,110.6 160.0,110.5" stroke="#c00800" stroke-width="5.0" stroke-opacity="0.9" filter="url(#bl1)"/>
<path d="M129.7,104.0C131.1,104.9 135.8,108.0 138.3,109.3C140.8,110.6 142.5,111.7 144.8,112.0C147.1,112.3 149.5,111.5 152.0,111.2C154.5,111.0 158.7,110.6 160.0,110.5" stroke="#ff3000" stroke-width="3.0" stroke-opacity="1" filter="url(#bl05)"/>
<path d="M129.7,104.0C131.1,104.9 135.8,108.0 138.3,109.3C140.8,110.6 142.5,111.7 144.8,112.0C147.1,112.3 149.5,111.5 152.0,111.2C154.5,111.0 158.7,110.6 160.0,110.5" stroke="#ff7800" stroke-width="1.6" stroke-opacity="1"/>
</g>
<path d="M50.0,92.7C51.7,92.7 57.2,92.6 60.0,92.6C62.8,92.5 64.5,92.7 67.0,92.4C69.5,92.1 72.5,91.4 75.3,90.7C78.1,90.0 81.0,89.2 83.8,88.2C86.6,87.2 89.4,85.5 92.2,84.6C95.0,83.7 98.5,83.1 100.8,82.8C103.1,82.5 104.5,82.4 106.3,82.6C108.1,82.8 109.9,83.2 111.7,84.0C113.5,84.8 115.2,86.3 117.0,87.6C118.8,88.9 120.7,90.5 122.5,92.0C124.3,93.5 126.1,94.7 128.0,96.3C129.9,97.9 131.9,99.5 134.0,101.5C136.1,103.5 138.7,106.2 140.5,108.0C142.3,109.8 144.1,111.3 144.8,112.0" stroke="#a00000" stroke-width="4.6" stroke-opacity="0.9" filter="url(#bl1)"/>
<path d="M50.0,92.7C51.7,92.7 57.2,92.6 60.0,92.6C62.8,92.5 64.5,92.7 67.0,92.4C69.5,92.1 72.5,91.4 75.3,90.7C78.1,90.0 81.0,89.2 83.8,88.2C86.6,87.2 89.4,85.5 92.2,84.6C95.0,83.7 98.5,83.1 100.8,82.8C103.1,82.5 104.5,82.4 106.3,82.6C108.1,82.8 109.9,83.2 111.7,84.0C113.5,84.8 115.2,86.3 117.0,87.6C118.8,88.9 120.7,90.5 122.5,92.0C124.3,93.5 126.1,94.7 128.0,96.3C129.9,97.9 131.9,99.5 134.0,101.5C136.1,103.5 138.7,106.2 140.5,108.0C142.3,109.8 144.1,111.3 144.8,112.0" stroke="#e81800" stroke-width="2.6" stroke-opacity="1" filter="url(#bl05)"/>
<path d="M50.0,92.7C51.7,92.7 57.2,92.6 60.0,92.6C62.8,92.5 64.5,92.7 67.0,92.4C69.5,92.1 72.5,91.4 75.3,90.7C78.1,90.0 81.0,89.2 83.8,88.2C86.6,87.2 89.4,85.5 92.2,84.6C95.0,83.7 98.5,83.1 100.8,82.8C103.1,82.5 104.5,82.4 106.3,82.6C108.1,82.8 109.9,83.2 111.7,84.0C113.5,84.8 115.2,86.3 117.0,87.6C118.8,88.9 120.7,90.5 122.5,92.0C124.3,93.5 126.1,94.7 128.0,96.3C129.9,97.9 131.9,99.5 134.0,101.5C136.1,103.5 138.7,106.2 140.5,108.0C142.3,109.8 144.1,111.3 144.8,112.0" stroke="#ff3000" stroke-width="1.1" stroke-opacity="1"/>
<g mask="url(#hm11)">
<path d="M50.0,92.7C51.7,92.7 57.2,92.6 60.0,92.6C62.8,92.5 64.5,92.7 67.0,92.4C69.5,92.1 72.5,91.4 75.3,90.7C78.1,90.0 81.0,89.2 83.8,88.2C86.6,87.2 89.4,85.5 92.2,84.6C95.0,83.7 99.4,83.1 100.8,82.8" stroke="#d01000" stroke-width="5.4" stroke-opacity="0.9" filter="url(#bl1)"/>
<path d="M50.0,92.7C51.7,92.7 57.2,92.6 60.0,92.6C62.8,92.5 64.5,92.7 67.0,92.4C69.5,92.1 72.5,91.4 75.3,90.7C78.1,90.0 81.0,89.2 83.8,88.2C86.6,87.2 89.4,85.5 92.2,84.6C95.0,83.7 99.4,83.1 100.8,82.8" stroke="#ff4800" stroke-width="3.4" stroke-opacity="1" filter="url(#bl05)"/>
<path d="M50.0,92.7C51.7,92.7 57.2,92.6 60.0,92.6C62.8,92.5 64.5,92.7 67.0,92.4C69.5,92.1 72.5,91.4 75.3,90.7C78.1,90.0 81.0,89.2 83.8,88.2C86.6,87.2 89.4,85.5 92.2,84.6C95.0,83.7 99.4,83.1 100.8,82.8" stroke="#ffa800" stroke-width="2.4" stroke-opacity="1"/>
<path d="M50.0,92.7C51.7,92.7 57.2,92.6 60.0,92.6C62.8,92.5 64.5,92.7 67.0,92.4C69.5,92.1 72.5,91.4 75.3,90.7C78.1,90.0 81.0,89.2 83.8,88.2C86.6,87.2 89.4,85.5 92.2,84.6C95.0,83.7 99.4,83.1 100.8,82.8" stroke="#ffe858" stroke-width="1.3" stroke-opacity="1"/>
</g>
<path d="M50.0,62.5C53.3,62.7 64.2,63.2 70.0,63.5C75.8,63.8 80.8,64.2 85.0,64.5C89.2,64.8 91.8,65.0 95.0,65.6C98.2,66.2 101.0,67.1 104.0,68.0C107.0,68.9 110.0,70.0 113.0,71.0C116.0,72.0 119.0,72.8 122.0,74.0C125.0,75.2 128.2,76.8 131.2,78.2C134.2,79.6 137.2,81.2 140.2,82.5C143.2,83.8 146.0,85.2 149.0,86.2C152.0,87.2 154.4,88.0 158.3,88.6C162.2,89.2 170.1,89.8 172.5,90.0" stroke="#5a0000" stroke-width="3.4" stroke-opacity="1" filter="url(#bl08)"/>
<path d="M50.0,62.5C53.3,62.7 64.2,63.2 70.0,63.5C75.8,63.8 80.8,64.2 85.0,64.5C89.2,64.8 91.8,65.0 95.0,65.6C98.2,66.2 101.0,67.1 104.0,68.0C107.0,68.9 110.0,70.0 113.0,71.0C116.0,72.0 119.0,72.8 122.0,74.0C125.0,75.2 128.2,76.8 131.2,78.2C134.2,79.6 137.2,81.2 140.2,82.5C143.2,83.8 146.0,85.2 149.0,86.2C152.0,87.2 154.4,88.0 158.3,88.6C162.2,89.2 170.1,89.8 172.5,90.0" stroke="#900a00" stroke-width="1.5" stroke-opacity="0.9"/>
<g mask="url(#hm13)">
<path d="M85.0,64.5C86.7,64.7 91.8,65.0 95.0,65.6C98.2,66.2 101.0,67.1 104.0,68.0C107.0,68.9 110.0,70.0 113.0,71.0C116.0,72.0 119.0,72.8 122.0,74.0C125.0,75.2 128.2,76.8 131.2,78.2C134.2,79.6 137.2,81.2 140.2,82.5C143.2,83.8 146.0,85.2 149.0,86.2C152.0,87.2 154.4,88.0 158.3,88.6C162.2,89.2 170.1,89.8 172.5,90.0" stroke="#a00000" stroke-width="4.6" stroke-opacity="0.9" filter="url(#bl1)"/>
<path d="M85.0,64.5C86.7,64.7 91.8,65.0 95.0,65.6C98.2,66.2 101.0,67.1 104.0,68.0C107.0,68.9 110.0,70.0 113.0,71.0C116.0,72.0 119.0,72.8 122.0,74.0C125.0,75.2 128.2,76.8 131.2,78.2C134.2,79.6 137.2,81.2 140.2,82.5C143.2,83.8 146.0,85.2 149.0,86.2C152.0,87.2 154.4,88.0 158.3,88.6C162.2,89.2 170.1,89.8 172.5,90.0" stroke="#e81800" stroke-width="2.6" stroke-opacity="1" filter="url(#bl05)"/>
<path d="M85.0,64.5C86.7,64.7 91.8,65.0 95.0,65.6C98.2,66.2 101.0,67.1 104.0,68.0C107.0,68.9 110.0,70.0 113.0,71.0C116.0,72.0 119.0,72.8 122.0,74.0C125.0,75.2 128.2,76.8 131.2,78.2C134.2,79.6 137.2,81.2 140.2,82.5C143.2,83.8 146.0,85.2 149.0,86.2C152.0,87.2 154.4,88.0 158.3,88.6C162.2,89.2 170.1,89.8 172.5,90.0" stroke="#ff3000" stroke-width="1.1" stroke-opacity="1"/>
</g>
<path d="M50.0,68.4C51.7,68.5 57.2,68.5 60.0,68.8C62.8,69.1 64.5,69.6 67.0,70.1C69.5,70.6 72.5,71.3 75.3,71.8C78.1,72.3 80.5,72.7 83.8,73.0C87.1,73.3 91.6,73.3 95.0,73.5C98.4,73.7 101.0,73.7 104.0,74.0C107.0,74.3 110.0,74.8 113.0,75.5C116.0,76.2 119.0,77.3 122.0,78.5C125.0,79.7 128.2,81.3 131.2,82.8C134.2,84.3 137.2,85.8 140.2,87.3C143.2,88.8 146.2,90.3 149.2,91.5C152.2,92.7 155.7,93.8 158.3,94.5C160.9,95.2 162.6,95.5 165.0,95.8C167.4,96.1 171.2,96.0 172.5,96.1" stroke="#c00800" stroke-width="5.0" stroke-opacity="0.9" filter="url(#bl1)"/>
<path d="M50.0,68.4C51.7,68.5 57.2,68.5 60.0,68.8C62.8,69.1 64.5,69.6 67.0,70.1C69.5,70.6 72.5,71.3 75.3,71.8C78.1,72.3 80.5,72.7 83.8,73.0C87.1,73.3 91.6,73.3 95.0,73.5C98.4,73.7 101.0,73.7 104.0,74.0C107.0,74.3 110.0,74.8 113.0,75.5C116.0,76.2 119.0,77.3 122.0,78.5C125.0,79.7 128.2,81.3 131.2,82.8C134.2,84.3 137.2,85.8 140.2,87.3C143.2,88.8 146.2,90.3 149.2,91.5C152.2,92.7 155.7,93.8 158.3,94.5C160.9,95.2 162.6,95.5 165.0,95.8C167.4,96.1 171.2,96.0 172.5,96.1" stroke="#ff3000" stroke-width="3.0" stroke-opacity="1" filter="url(#bl05)"/>
<path d="M50.0,68.4C51.7,68.5 57.2,68.5 60.0,68.8C62.8,69.1 64.5,69.6 67.0,70.1C69.5,70.6 72.5,71.3 75.3,71.8C78.1,72.3 80.5,72.7 83.8,73.0C87.1,73.3 91.6,73.3 95.0,73.5C98.4,73.7 101.0,73.7 104.0,74.0C107.0,74.3 110.0,74.8 113.0,75.5C116.0,76.2 119.0,77.3 122.0,78.5C125.0,79.7 128.2,81.3 131.2,82.8C134.2,84.3 137.2,85.8 140.2,87.3C143.2,88.8 146.2,90.3 149.2,91.5C152.2,92.7 155.7,93.8 158.3,94.5C160.9,95.2 162.6,95.5 165.0,95.8C167.4,96.1 171.2,96.0 172.5,96.1" stroke="#ff7800" stroke-width="1.6" stroke-opacity="1"/>
<g mask="url(#hm15)">
<path d="M50.0,68.4C51.7,68.5 57.2,68.5 60.0,68.8C62.8,69.1 64.5,69.6 67.0,70.1C69.5,70.6 72.5,71.3 75.3,71.8C78.1,72.3 82.4,72.8 83.8,73.0" stroke="#d01000" stroke-width="5.4" stroke-opacity="0.9" filter="url(#bl1)"/>
<path d="M50.0,68.4C51.7,68.5 57.2,68.5 60.0,68.8C62.8,69.1 64.5,69.6 67.0,70.1C69.5,70.6 72.5,71.3 75.3,71.8C78.1,72.3 82.4,72.8 83.8,73.0" stroke="#ff4800" stroke-width="3.4" stroke-opacity="1" filter="url(#bl05)"/>
<path d="M50.0,68.4C51.7,68.5 57.2,68.5 60.0,68.8C62.8,69.1 64.5,69.6 67.0,70.1C69.5,70.6 72.5,71.3 75.3,71.8C78.1,72.3 82.4,72.8 83.8,73.0" stroke="#ffa800" stroke-width="2.4" stroke-opacity="1"/>
<path d="M50.0,68.4C51.7,68.5 57.2,68.5 60.0,68.8C62.8,69.1 64.5,69.6 67.0,70.1C69.5,70.6 72.5,71.3 75.3,71.8C78.1,72.3 82.4,72.8 83.8,73.0" stroke="#ffe858" stroke-width="1.3" stroke-opacity="1"/>
</g>
<g mask="url(#hm17)">
<path d="M149.2,91.5C150.7,92.0 155.7,93.8 158.3,94.5C160.9,95.2 162.6,95.5 165.0,95.8C167.4,96.1 171.2,96.0 172.5,96.1" stroke="#d01000" stroke-width="5.4" stroke-opacity="0.9" filter="url(#bl1)"/>
<path d="M149.2,91.5C150.7,92.0 155.7,93.8 158.3,94.5C160.9,95.2 162.6,95.5 165.0,95.8C167.4,96.1 171.2,96.0 172.5,96.1" stroke="#ff4800" stroke-width="3.4" stroke-opacity="1" filter="url(#bl05)"/>
<path d="M149.2,91.5C150.7,92.0 155.7,93.8 158.3,94.5C160.9,95.2 162.6,95.5 165.0,95.8C167.4,96.1 171.2,96.0 172.5,96.1" stroke="#ffa800" stroke-width="2.4" stroke-opacity="1"/>
<path d="M149.2,91.5C150.7,92.0 155.7,93.8 158.3,94.5C160.9,95.2 162.6,95.5 165.0,95.8C167.4,96.1 171.2,96.0 172.5,96.1" stroke="#ffe858" stroke-width="1.3" stroke-opacity="1"/>
</g>
<path d="M91.6,59.5C93.1,60.2 97.6,62.5 100.6,63.5C103.6,64.5 106.7,65.2 109.7,65.6C112.7,66.0 115.8,65.9 118.7,65.8C121.6,65.7 124.3,65.5 127.0,65.2C129.7,64.9 132.0,64.6 135.0,64.0C138.0,63.4 142.2,62.4 145.0,61.6C147.8,60.8 149.8,59.8 152.0,59.0C154.2,58.2 156.1,57.4 158.3,56.6C160.5,55.8 162.6,54.7 165.0,54.0C167.4,53.3 171.2,52.8 172.5,52.6" stroke="#a00000" stroke-width="4.6" stroke-opacity="0.9" filter="url(#bl1)"/>
<path d="M91.6,59.5C93.1,60.2 97.6,62.5 100.6,63.5C103.6,64.5 106.7,65.2 109.7,65.6C112.7,66.0 115.8,65.9 118.7,65.8C121.6,65.7 124.3,65.5 127.0,65.2C129.7,64.9 132.0,64.6 135.0,64.0C138.0,63.4 142.2,62.4 145.0,61.6C147.8,60.8 149.8,59.8 152.0,59.0C154.2,58.2 156.1,57.4 158.3,56.6C160.5,55.8 162.6,54.7 165.0,54.0C167.4,53.3 171.2,52.8 172.5,52.6" stroke="#e81800" stroke-width="2.6" stroke-opacity="1" filter="url(#bl05)"/>
<path d="M91.6,59.5C93.1,60.2 97.6,62.5 100.6,63.5C103.6,64.5 106.7,65.2 109.7,65.6C112.7,66.0 115.8,65.9 118.7,65.8C121.6,65.7 124.3,65.5 127.0,65.2C129.7,64.9 132.0,64.6 135.0,64.0C138.0,63.4 142.2,62.4 145.0,61.6C147.8,60.8 149.8,59.8 152.0,59.0C154.2,58.2 156.1,57.4 158.3,56.6C160.5,55.8 162.6,54.7 165.0,54.0C167.4,53.3 171.2,52.8 172.5,52.6" stroke="#ff3000" stroke-width="1.1" stroke-opacity="1"/>
<path d="M50.0,40.3C51.5,40.4 56.0,40.3 59.0,40.8C62.0,41.3 65.1,42.1 68.1,43.2C71.1,44.4 74.1,46.1 77.1,47.7C80.1,49.4 83.2,51.4 86.2,53.1C89.2,54.9 92.2,57.1 95.2,58.2C98.2,59.3 101.2,59.4 104.2,59.6C107.2,59.8 110.2,59.8 113.2,59.6C116.2,59.4 119.0,58.9 122.0,58.5C125.0,58.1 128.2,57.8 131.2,57.2C134.2,56.6 137.0,55.7 140.0,54.8C143.0,53.9 146.5,52.8 149.2,51.8C151.9,50.8 153.3,49.8 156.0,48.5C158.7,47.2 162.7,45.0 165.4,44.0C168.2,43.0 171.3,43.0 172.5,42.8" stroke="#a00000" stroke-width="4.6" stroke-opacity="0.9" filter="url(#bl1)"/>
<path d="M50.0,40.3C51.5,40.4 56.0,40.3 59.0,40.8C62.0,41.3 65.1,42.1 68.1,43.2C71.1,44.4 74.1,46.1 77.1,47.7C80.1,49.4 83.2,51.4 86.2,53.1C89.2,54.9 92.2,57.1 95.2,58.2C98.2,59.3 101.2,59.4 104.2,59.6C107.2,59.8 110.2,59.8 113.2,59.6C116.2,59.4 119.0,58.9 122.0,58.5C125.0,58.1 128.2,57.8 131.2,57.2C134.2,56.6 137.0,55.7 140.0,54.8C143.0,53.9 146.5,52.8 149.2,51.8C151.9,50.8 153.3,49.8 156.0,48.5C158.7,47.2 162.7,45.0 165.4,44.0C168.2,43.0 171.3,43.0 172.5,42.8" stroke="#e81800" stroke-width="2.6" stroke-opacity="1" filter="url(#bl05)"/>
<path d="M50.0,40.3C51.5,40.4 56.0,40.3 59.0,40.8C62.0,41.3 65.1,42.1 68.1,43.2C71.1,44.4 74.1,46.1 77.1,47.7C80.1,49.4 83.2,51.4 86.2,53.1C89.2,54.9 92.2,57.1 95.2,58.2C98.2,59.3 101.2,59.4 104.2,59.6C107.2,59.8 110.2,59.8 113.2,59.6C116.2,59.4 119.0,58.9 122.0,58.5C125.0,58.1 128.2,57.8 131.2,57.2C134.2,56.6 137.0,55.7 140.0,54.8C143.0,53.9 146.5,52.8 149.2,51.8C151.9,50.8 153.3,49.8 156.0,48.5C158.7,47.2 162.7,45.0 165.4,44.0C168.2,43.0 171.3,43.0 172.5,42.8" stroke="#ff3000" stroke-width="1.1" stroke-opacity="1"/>
<g mask="url(#hm19)">
<path d="M50.0,40.3C51.5,40.4 56.0,40.3 59.0,40.8C62.0,41.3 65.1,42.1 68.1,43.2C71.1,44.4 75.6,47.0 77.1,47.7" stroke="#c00800" stroke-width="5.0" stroke-opacity="0.9" filter="url(#bl1)"/>
<path d="M50.0,40.3C51.5,40.4 56.0,40.3 59.0,40.8C62.0,41.3 65.1,42.1 68.1,43.2C71.1,44.4 75.6,47.0 77.1,47.7" stroke="#ff3000" stroke-width="3.0" stroke-opacity="1" filter="url(#bl05)"/>
<path d="M50.0,40.3C51.5,40.4 56.0,40.3 59.0,40.8C62.0,41.3 65.1,42.1 68.1,43.2C71.1,44.4 75.6,47.0 77.1,47.7" stroke="#ff7800" stroke-width="1.6" stroke-opacity="1"/>
</g>
<g mask="url(#hm21)">
<path d="M50.0,40.3C51.5,40.4 56.0,40.3 59.0,40.8C62.0,41.3 65.1,42.1 68.1,43.2C71.1,44.4 74.1,46.1 77.1,47.7C80.1,49.4 83.2,51.4 86.2,53.1C89.2,54.9 92.2,57.1 95.2,58.2C98.2,59.3 102.7,59.4 104.2,59.6" stroke="#d01000" stroke-width="5.4" stroke-opacity="0.9" filter="url(#bl1)"/>
<path d="M50.0,40.3C51.5,40.4 56.0,40.3 59.0,40.8C62.0,41.3 65.1,42.1 68.1,43.2C71.1,44.4 74.1,46.1 77.1,47.7C80.1,49.4 83.2,51.4 86.2,53.1C89.2,54.9 92.2,57.1 95.2,58.2C98.2,59.3 102.7,59.4 104.2,59.6" stroke="#ff4800" stroke-width="3.4" stroke-opacity="1" filter="url(#bl05)"/>
<path d="M50.0,40.3C51.5,40.4 56.0,40.3 59.0,40.8C62.0,41.3 65.1,42.1 68.1,43.2C71.1,44.4 74.1,46.1 77.1,47.7C80.1,49.4 83.2,51.4 86.2,53.1C89.2,54.9 92.2,57.1 95.2,58.2C98.2,59.3 102.7,59.4 104.2,59.6" stroke="#ffa800" stroke-width="2.4" stroke-opacity="1"/>
<path d="M50.0,40.3C51.5,40.4 56.0,40.3 59.0,40.8C62.0,41.3 65.1,42.1 68.1,43.2C71.1,44.4 74.1,46.1 77.1,47.7C80.1,49.4 83.2,51.4 86.2,53.1C89.2,54.9 92.2,57.1 95.2,58.2C98.2,59.3 102.7,59.4 104.2,59.6" stroke="#ffe858" stroke-width="1.3" stroke-opacity="1"/>
</g>
<path d="M118.0,125.5C119.3,125.8 123.7,126.9 126.0,127.5C128.3,128.1 130.0,128.5 132.0,129.0C134.0,129.5 135.7,129.9 138.0,130.5C140.3,131.1 143.7,131.9 146.0,132.5C148.3,133.1 149.9,133.4 152.0,134.0C154.1,134.6 156.1,135.2 158.3,136.0C160.5,136.8 162.6,137.7 165.0,138.5C167.4,139.3 171.2,140.6 172.5,141.0" stroke="#3e0000" stroke-width="3.2" stroke-opacity="1" filter="url(#bl08)"/>
<path d="M118.0,125.5C119.3,125.8 123.7,126.9 126.0,127.5C128.3,128.1 130.0,128.5 132.0,129.0C134.0,129.5 135.7,129.9 138.0,130.5C140.3,131.1 143.7,131.9 146.0,132.5C148.3,133.1 149.9,133.4 152.0,134.0C154.1,134.6 156.1,135.2 158.3,136.0C160.5,136.8 162.6,137.7 165.0,138.5C167.4,139.3 171.2,140.6 172.5,141.0" stroke="#6a0400" stroke-width="1.3" stroke-opacity="0.9"/>
<g mask="url(#hm23)">
<path d="M132.0,129.0C133.0,129.2 135.7,129.9 138.0,130.5C140.3,131.1 143.7,131.9 146.0,132.5C148.3,133.1 149.9,133.4 152.0,134.0C154.1,134.6 156.1,135.2 158.3,136.0C160.5,136.8 162.6,137.7 165.0,138.5C167.4,139.3 171.2,140.6 172.5,141.0" stroke="#a00000" stroke-width="4.6" stroke-opacity="0.9" filter="url(#bl1)"/>
<path d="M132.0,129.0C133.0,129.2 135.7,129.9 138.0,130.5C140.3,131.1 143.7,131.9 146.0,132.5C148.3,133.1 149.9,133.4 152.0,134.0C154.1,134.6 156.1,135.2 158.3,136.0C160.5,136.8 162.6,137.7 165.0,138.5C167.4,139.3 171.2,140.6 172.5,141.0" stroke="#e81800" stroke-width="2.6" stroke-opacity="1" filter="url(#bl05)"/>
<path d="M132.0,129.0C133.0,129.2 135.7,129.9 138.0,130.5C140.3,131.1 143.7,131.9 146.0,132.5C148.3,133.1 149.9,133.4 152.0,134.0C154.1,134.6 156.1,135.2 158.3,136.0C160.5,136.8 162.6,137.7 165.0,138.5C167.4,139.3 171.2,140.6 172.5,141.0" stroke="#ff3000" stroke-width="1.1" stroke-opacity="1"/>
</g>
<path d="M143.0,111.5C143.8,111.8 146.0,112.8 148.0,113.2C150.0,113.6 152.5,113.8 155.0,114.0C157.5,114.2 160.1,114.2 163.0,114.2C165.9,114.2 170.9,114.2 172.5,114.2" stroke="#a00000" stroke-width="4.6" stroke-opacity="0.9" filter="url(#bl1)"/>
<path d="M143.0,111.5C143.8,111.8 146.0,112.8 148.0,113.2C150.0,113.6 152.5,113.8 155.0,114.0C157.5,114.2 160.1,114.2 163.0,114.2C165.9,114.2 170.9,114.2 172.5,114.2" stroke="#e81800" stroke-width="2.6" stroke-opacity="1" filter="url(#bl05)"/>
<path d="M143.0,111.5C143.8,111.8 146.0,112.8 148.0,113.2C150.0,113.6 152.5,113.8 155.0,114.0C157.5,114.2 160.1,114.2 163.0,114.2C165.9,114.2 170.9,114.2 172.5,114.2" stroke="#ff3000" stroke-width="1.1" stroke-opacity="1"/>
<path d="M118.5,132.0C119.4,133.0 122.2,136.2 124.0,138.0C125.8,139.8 127.3,140.7 129.4,142.5C131.5,144.3 133.9,146.6 136.6,148.6C139.3,150.6 142.6,153.1 145.6,154.6C148.6,156.1 153.2,157.0 154.7,157.5" stroke="#5a0000" stroke-width="3.4" stroke-opacity="1" filter="url(#bl08)"/>
<path d="M118.5,132.0C119.4,133.0 122.2,136.2 124.0,138.0C125.8,139.8 127.3,140.7 129.4,142.5C131.5,144.3 133.9,146.6 136.6,148.6C139.3,150.6 142.6,153.1 145.6,154.6C148.6,156.1 153.2,157.0 154.7,157.5" stroke="#900a00" stroke-width="1.5" stroke-opacity="0.9"/>
<path d="M50.0,164.3C51.7,164.1 57.0,163.5 60.0,163.0C63.0,162.5 65.3,161.9 68.1,161.1C70.9,160.3 74.0,159.2 77.0,158.0C80.0,156.8 83.5,155.1 86.2,153.8C88.9,152.6 90.6,151.7 93.0,150.5C95.4,149.3 98.1,147.7 100.6,146.6C103.1,145.5 105.8,144.6 107.9,144.0C110.0,143.4 112.2,143.3 113.0,143.2" stroke="#a00000" stroke-width="4.6" stroke-opacity="0.9" filter="url(#bl1)"/>
<path d="M50.0,164.3C51.7,164.1 57.0,163.5 60.0,163.0C63.0,162.5 65.3,161.9 68.1,161.1C70.9,160.3 74.0,159.2 77.0,158.0C80.0,156.8 83.5,155.1 86.2,153.8C88.9,152.6 90.6,151.7 93.0,150.5C95.4,149.3 98.1,147.7 100.6,146.6C103.1,145.5 105.8,144.6 107.9,144.0C110.0,143.4 112.2,143.3 113.0,143.2" stroke="#e81800" stroke-width="2.6" stroke-opacity="1" filter="url(#bl05)"/>
<path d="M50.0,164.3C51.7,164.1 57.0,163.5 60.0,163.0C63.0,162.5 65.3,161.9 68.1,161.1C70.9,160.3 74.0,159.2 77.0,158.0C80.0,156.8 83.5,155.1 86.2,153.8C88.9,152.6 90.6,151.7 93.0,150.5C95.4,149.3 98.1,147.7 100.6,146.6C103.1,145.5 105.8,144.6 107.9,144.0C110.0,143.4 112.2,143.3 113.0,143.2" stroke="#ff3000" stroke-width="1.1" stroke-opacity="1"/>
<path d="M50.0,185.5C51.7,185.4 57.0,185.3 60.0,185.0C63.0,184.7 65.3,184.4 68.1,183.7C70.9,182.9 74.0,181.9 77.0,180.5C80.0,179.1 83.2,177.3 86.2,175.5C89.2,173.7 92.0,171.6 95.0,169.5C98.0,167.4 101.2,165.1 104.2,162.9C107.2,160.8 110.3,158.5 113.3,156.6C116.3,154.7 120.8,152.3 122.3,151.5" stroke="#a00000" stroke-width="4.6" stroke-opacity="0.9" filter="url(#bl1)"/>
<path d="M50.0,185.5C51.7,185.4 57.0,185.3 60.0,185.0C63.0,184.7 65.3,184.4 68.1,183.7C70.9,182.9 74.0,181.9 77.0,180.5C80.0,179.1 83.2,177.3 86.2,175.5C89.2,173.7 92.0,171.6 95.0,169.5C98.0,167.4 101.2,165.1 104.2,162.9C107.2,160.8 110.3,158.5 113.3,156.6C116.3,154.7 120.8,152.3 122.3,151.5" stroke="#e81800" stroke-width="2.6" stroke-opacity="1" filter="url(#bl05)"/>
<path d="M50.0,185.5C51.7,185.4 57.0,185.3 60.0,185.0C63.0,184.7 65.3,184.4 68.1,183.7C70.9,182.9 74.0,181.9 77.0,180.5C80.0,179.1 83.2,177.3 86.2,175.5C89.2,173.7 92.0,171.6 95.0,169.5C98.0,167.4 101.2,165.1 104.2,162.9C107.2,160.8 110.3,158.5 113.3,156.6C116.3,154.7 120.8,152.3 122.3,151.5" stroke="#ff3000" stroke-width="1.1" stroke-opacity="1"/>
<path d="M110.0,143.2C110.8,143.6 113.0,144.3 115.0,145.6C117.0,146.9 119.4,149.0 122.1,150.8C124.8,152.6 128.2,154.9 131.2,156.3C134.2,157.8 137.2,158.9 140.2,159.5C143.2,160.1 146.2,160.1 149.2,159.9C152.2,159.7 155.7,158.6 158.3,158.1C160.9,157.6 162.6,157.3 165.0,157.0C167.4,156.7 171.2,156.4 172.5,156.3" stroke="#c00800" stroke-width="5.0" stroke-opacity="0.9" filter="url(#bl1)"/>
<path d="M110.0,143.2C110.8,143.6 113.0,144.3 115.0,145.6C117.0,146.9 119.4,149.0 122.1,150.8C124.8,152.6 128.2,154.9 131.2,156.3C134.2,157.8 137.2,158.9 140.2,159.5C143.2,160.1 146.2,160.1 149.2,159.9C152.2,159.7 155.7,158.6 158.3,158.1C160.9,157.6 162.6,157.3 165.0,157.0C167.4,156.7 171.2,156.4 172.5,156.3" stroke="#ff3000" stroke-width="3.0" stroke-opacity="1" filter="url(#bl05)"/>
<path d="M110.0,143.2C110.8,143.6 113.0,144.3 115.0,145.6C117.0,146.9 119.4,149.0 122.1,150.8C124.8,152.6 128.2,154.9 131.2,156.3C134.2,157.8 137.2,158.9 140.2,159.5C143.2,160.1 146.2,160.1 149.2,159.9C152.2,159.7 155.7,158.6 158.3,158.1C160.9,157.6 162.6,157.3 165.0,157.0C167.4,156.7 171.2,156.4 172.5,156.3" stroke="#ff7800" stroke-width="1.6" stroke-opacity="1"/>
<g mask="url(#hm25)">
<path d="M131.2,156.3C132.7,156.8 137.2,158.9 140.2,159.5C143.2,160.1 146.2,160.1 149.2,159.9C152.2,159.7 155.7,158.6 158.3,158.1C160.9,157.6 162.6,157.3 165.0,157.0C167.4,156.7 171.2,156.4 172.5,156.3" stroke="#d01000" stroke-width="5.4" stroke-opacity="0.9" filter="url(#bl1)"/>
<path d="M131.2,156.3C132.7,156.8 137.2,158.9 140.2,159.5C143.2,160.1 146.2,160.1 149.2,159.9C152.2,159.7 155.7,158.6 158.3,158.1C160.9,157.6 162.6,157.3 165.0,157.0C167.4,156.7 171.2,156.4 172.5,156.3" stroke="#ff4800" stroke-width="3.4" stroke-opacity="1" filter="url(#bl05)"/>
<path d="M131.2,156.3C132.7,156.8 137.2,158.9 140.2,159.5C143.2,160.1 146.2,160.1 149.2,159.9C152.2,159.7 155.7,158.6 158.3,158.1C160.9,157.6 162.6,157.3 165.0,157.0C167.4,156.7 171.2,156.4 172.5,156.3" stroke="#ffa800" stroke-width="2.4" stroke-opacity="1"/>
<path d="M131.2,156.3C132.7,156.8 137.2,158.9 140.2,159.5C143.2,160.1 146.2,160.1 149.2,159.9C152.2,159.7 155.7,158.6 158.3,158.1C160.9,157.6 162.6,157.3 165.0,157.0C167.4,156.7 171.2,156.4 172.5,156.3" stroke="#ffe858" stroke-width="1.3" stroke-opacity="1"/>
</g>
<path d="M50.0,97.8C51.8,98.0 57.8,98.1 60.8,98.9C63.8,99.7 65.4,100.5 68.1,102.5C70.8,104.5 74.1,108.0 77.1,110.7C80.1,113.4 83.2,116.2 86.2,118.8C89.2,121.4 92.2,124.1 95.2,126.6C98.2,129.1 101.0,131.6 104.0,133.8C107.0,136.0 110.1,138.5 113.1,139.9C116.1,141.3 119.5,141.9 122.1,142.1C124.7,142.3 126.4,142.1 128.5,141.3C130.6,140.5 132.6,138.5 134.8,137.4C137.1,136.3 139.6,135.3 142.0,134.5C144.4,133.7 146.5,133.3 149.2,132.7C151.9,132.1 155.3,131.4 158.3,130.8C161.3,130.2 164.9,129.5 167.3,129.2C169.7,128.9 171.6,128.9 172.5,128.8" stroke="#d01000" stroke-width="5.4" stroke-opacity="0.9" filter="url(#bl1)"/>
<path d="M50.0,97.8C51.8,98.0 57.8,98.1 60.8,98.9C63.8,99.7 65.4,100.5 68.1,102.5C70.8,104.5 74.1,108.0 77.1,110.7C80.1,113.4 83.2,116.2 86.2,118.8C89.2,121.4 92.2,124.1 95.2,126.6C98.2,129.1 101.0,131.6 104.0,133.8C107.0,136.0 110.1,138.5 113.1,139.9C116.1,141.3 119.5,141.9 122.1,142.1C124.7,142.3 126.4,142.1 128.5,141.3C130.6,140.5 132.6,138.5 134.8,137.4C137.1,136.3 139.6,135.3 142.0,134.5C144.4,133.7 146.5,133.3 149.2,132.7C151.9,132.1 155.3,131.4 158.3,130.8C161.3,130.2 164.9,129.5 167.3,129.2C169.7,128.9 171.6,128.9 172.5,128.8" stroke="#ff4800" stroke-width="3.4" stroke-opacity="1" filter="url(#bl05)"/>
<path d="M50.0,97.8C51.8,98.0 57.8,98.1 60.8,98.9C63.8,99.7 65.4,100.5 68.1,102.5C70.8,104.5 74.1,108.0 77.1,110.7C80.1,113.4 83.2,116.2 86.2,118.8C89.2,121.4 92.2,124.1 95.2,126.6C98.2,129.1 101.0,131.6 104.0,133.8C107.0,136.0 110.1,138.5 113.1,139.9C116.1,141.3 119.5,141.9 122.1,142.1C124.7,142.3 126.4,142.1 128.5,141.3C130.6,140.5 132.6,138.5 134.8,137.4C137.1,136.3 139.6,135.3 142.0,134.5C144.4,133.7 146.5,133.3 149.2,132.7C151.9,132.1 155.3,131.4 158.3,130.8C161.3,130.2 164.9,129.5 167.3,129.2C169.7,128.9 171.6,128.9 172.5,128.8" stroke="#ffa800" stroke-width="2.4" stroke-opacity="1"/>
<path d="M50.0,97.8C51.8,98.0 57.8,98.1 60.8,98.9C63.8,99.7 65.4,100.5 68.1,102.5C70.8,104.5 74.1,108.0 77.1,110.7C80.1,113.4 83.2,116.2 86.2,118.8C89.2,121.4 92.2,124.1 95.2,126.6C98.2,129.1 101.0,131.6 104.0,133.8C107.0,136.0 110.1,138.5 113.1,139.9C116.1,141.3 119.5,141.9 122.1,142.1C124.7,142.3 126.4,142.1 128.5,141.3C130.6,140.5 132.6,138.5 134.8,137.4C137.1,136.3 139.6,135.3 142.0,134.5C144.4,133.7 146.5,133.3 149.2,132.7C151.9,132.1 155.3,131.4 158.3,130.8C161.3,130.2 164.9,129.5 167.3,129.2C169.7,128.9 171.6,128.9 172.5,128.8" stroke="#ffe858" stroke-width="1.3" stroke-opacity="1"/>
</g>
<linearGradient id="hg0" gradientUnits="userSpaceOnUse" x1="87" y1="0" x2="165" y2="0"><stop offset="0" stop-color="#fff" stop-opacity="0"/><stop offset="0.064" stop-color="#fff" stop-opacity="1"/><stop offset="0.936" stop-color="#fff" stop-opacity="1"/><stop offset="1" stop-color="#fff" stop-opacity="0"/></linearGradient>
<mask id="hm1" maskUnits="userSpaceOnUse" x="40" y="20" width="140" height="180"><rect x="87" y="20" width="78" height="180" fill="url(#hg0)"/></mask>
<linearGradient id="hg2" gradientUnits="userSpaceOnUse" x1="95" y1="0" x2="180" y2="0"><stop offset="0" stop-color="#fff" stop-opacity="0"/><stop offset="0.059" stop-color="#fff" stop-opacity="1"/><stop offset="0.941" stop-color="#fff" stop-opacity="1"/><stop offset="1" stop-color="#fff" stop-opacity="0"/></linearGradient>
<mask id="hm3" maskUnits="userSpaceOnUse" x="40" y="20" width="140" height="180"><rect x="95" y="20" width="85" height="180" fill="url(#hg2)"/></mask>
<linearGradient id="hg4" gradientUnits="userSpaceOnUse" x1="95" y1="0" x2="155" y2="0"><stop offset="0" stop-color="#fff" stop-opacity="0"/><stop offset="0.083" stop-color="#fff" stop-opacity="1"/><stop offset="0.917" stop-color="#fff" stop-opacity="1"/><stop offset="1" stop-color="#fff" stop-opacity="0"/></linearGradient>
<mask id="hm5" maskUnits="userSpaceOnUse" x="40" y="20" width="140" height="180"><rect x="95" y="20" width="60" height="180" fill="url(#hg4)"/></mask>
<linearGradient id="hg6" gradientUnits="userSpaceOnUse" x1="145" y1="0" x2="180" y2="0"><stop offset="0" stop-color="#fff" stop-opacity="0"/><stop offset="0.143" stop-color="#fff" stop-opacity="1"/><stop offset="0.857" stop-color="#fff" stop-opacity="1"/><stop offset="1" stop-color="#fff" stop-opacity="0"/></linearGradient>
<mask id="hm7" maskUnits="userSpaceOnUse" x="40" y="20" width="140" height="180"><rect x="145" y="20" width="35" height="180" fill="url(#hg6)"/></mask>
<linearGradient id="hg8" gradientUnits="userSpaceOnUse" x1="135" y1="0" x2="155" y2="0"><stop offset="0" stop-color="#fff" stop-opacity="0"/><stop offset="0.250" stop-color="#fff" stop-opacity="1"/><stop offset="0.750" stop-color="#fff" stop-opacity="1"/><stop offset="1" stop-color="#fff" stop-opacity="0"/></linearGradient>
<mask id="hm9" maskUnits="userSpaceOnUse" x="40" y="20" width="140" height="180"><rect x="135" y="20" width="20" height="180" fill="url(#hg8)"/></mask>
<linearGradient id="hg10" gradientUnits="userSpaceOnUse" x1="40" y1="0" x2="93" y2="0"><stop offset="0" stop-color="#fff" stop-opacity="0"/><stop offset="0.094" stop-color="#fff" stop-opacity="1"/><stop offset="0.906" stop-color="#fff" stop-opacity="1"/><stop offset="1" stop-color="#fff" stop-opacity="0"/></linearGradient>
<mask id="hm11" maskUnits="userSpaceOnUse" x="40" y="20" width="140" height="180"><rect x="40" y="20" width="53" height="180" fill="url(#hg10)"/></mask>
<linearGradient id="hg12" gradientUnits="userSpaceOnUse" x1="95" y1="0" x2="180" y2="0"><stop offset="0" stop-color="#fff" stop-opacity="0"/><stop offset="0.059" stop-color="#fff" stop-opacity="1"/><stop offset="0.941" stop-color="#fff" stop-opacity="1"/><stop offset="1" stop-color="#fff" stop-opacity="0"/></linearGradient>
<mask id="hm13" maskUnits="userSpaceOnUse" x="40" y="20" width="140" height="180"><rect x="95" y="20" width="85" height="180" fill="url(#hg12)"/></mask>
<linearGradient id="hg14" gradientUnits="userSpaceOnUse" x1="40" y1="0" x2="73" y2="0"><stop offset="0" stop-color="#fff" stop-opacity="0"/><stop offset="0.152" stop-color="#fff" stop-opacity="1"/><stop offset="0.848" stop-color="#fff" stop-opacity="1"/><stop offset="1" stop-color="#fff" stop-opacity="0"/></linearGradient>
<mask id="hm15" maskUnits="userSpaceOnUse" x="40" y="20" width="140" height="180"><rect x="40" y="20" width="33" height="180" fill="url(#hg14)"/></mask>
<linearGradient id="hg16" gradientUnits="userSpaceOnUse" x1="155" y1="0" x2="180" y2="0"><stop offset="0" stop-color="#fff" stop-opacity="0"/><stop offset="0.200" stop-color="#fff" stop-opacity="1"/><stop offset="0.800" stop-color="#fff" stop-opacity="1"/><stop offset="1" stop-color="#fff" stop-opacity="0"/></linearGradient>
<mask id="hm17" maskUnits="userSpaceOnUse" x="40" y="20" width="140" height="180"><rect x="155" y="20" width="25" height="180" fill="url(#hg16)"/></mask>
<linearGradient id="hg18" gradientUnits="userSpaceOnUse" x1="40" y1="0" x2="67" y2="0"><stop offset="0" stop-color="#fff" stop-opacity="0"/><stop offset="0.185" stop-color="#fff" stop-opacity="1"/><stop offset="0.815" stop-color="#fff" stop-opacity="1"/><stop offset="1" stop-color="#fff" stop-opacity="0"/></linearGradient>
<mask id="hm19" maskUnits="userSpaceOnUse" x="40" y="20" width="140" height="180"><rect x="40" y="20" width="27" height="180" fill="url(#hg18)"/></mask>
<linearGradient id="hg20" gradientUnits="userSpaceOnUse" x1="57" y1="0" x2="97" y2="0"><stop offset="0" stop-color="#fff" stop-opacity="0"/><stop offset="0.125" stop-color="#fff" stop-opacity="1"/><stop offset="0.875" stop-color="#fff" stop-opacity="1"/><stop offset="1" stop-color="#fff" stop-opacity="0"/></linearGradient>
<mask id="hm21" maskUnits="userSpaceOnUse" x="40" y="20" width="140" height="180"><rect x="57" y="20" width="40" height="180" fill="url(#hg20)"/></mask>
<linearGradient id="hg22" gradientUnits="userSpaceOnUse" x1="141" y1="0" x2="180" y2="0"><stop offset="0" stop-color="#fff" stop-opacity="0"/><stop offset="0.128" stop-color="#fff" stop-opacity="1"/><stop offset="0.872" stop-color="#fff" stop-opacity="1"/><stop offset="1" stop-color="#fff" stop-opacity="0"/></linearGradient>
<mask id="hm23" maskUnits="userSpaceOnUse" x="40" y="20" width="140" height="180"><rect x="141" y="20" width="39" height="180" fill="url(#hg22)"/></mask>
<linearGradient id="hg24" gradientUnits="userSpaceOnUse" x1="135" y1="0" x2="180" y2="0"><stop offset="0" stop-color="#fff" stop-opacity="0"/><stop offset="0.111" stop-color="#fff" stop-opacity="1"/><stop offset="0.889" stop-color="#fff" stop-opacity="1"/><stop offset="1" stop-color="#fff" stop-opacity="0"/></linearGradient>
<mask id="hm25" maskUnits="userSpaceOnUse" x="40" y="20" width="140" height="180"><rect x="135" y="20" width="45" height="180" fill="url(#hg24)"/></mask>
<g id="dotsA" fill="none" stroke="#ffffff" stroke-opacity="0.66" stroke-width="2">
<path d="M50.0,40.3C51.5,40.4 56.0,40.3 59.0,40.8C62.0,41.3 65.1,42.1 68.1,43.2C71.1,44.4 74.1,46.1 77.1,47.7C80.1,49.4 83.2,51.4 86.2,53.1C89.2,54.9 92.2,57.1 95.2,58.2C98.2,59.3 101.2,59.4 104.2,59.6C107.2,59.8 110.2,59.8 113.2,59.6C116.2,59.4 119.0,58.9 122.0,58.5C125.0,58.1 128.2,57.8 131.2,57.2C134.2,56.6 137.0,55.7 140.0,54.8C143.0,53.9 146.5,52.8 149.2,51.8C151.9,50.8 153.3,49.8 156.0,48.5C158.7,47.2 162.7,45.0 165.4,44.0C168.2,43.0 171.3,43.0 172.5,42.8"/>
<path d="M91.6,59.5C93.1,60.2 97.6,62.5 100.6,63.5C103.6,64.5 106.7,65.2 109.7,65.6C112.7,66.0 115.8,65.9 118.7,65.8C121.6,65.7 124.3,65.5 127.0,65.2C129.7,64.9 132.0,64.6 135.0,64.0C138.0,63.4 142.2,62.4 145.0,61.6C147.8,60.8 149.8,59.8 152.0,59.0C154.2,58.2 156.1,57.4 158.3,56.6C160.5,55.8 162.6,54.7 165.0,54.0C167.4,53.3 171.2,52.8 172.5,52.6"/>
<path d="M50.0,62.5C53.3,62.7 64.2,63.2 70.0,63.5C75.8,63.8 80.8,64.2 85.0,64.5C89.2,64.8 91.8,65.0 95.0,65.6C98.2,66.2 101.0,67.1 104.0,68.0C107.0,68.9 110.0,70.0 113.0,71.0C116.0,72.0 119.0,72.8 122.0,74.0C125.0,75.2 128.2,76.8 131.2,78.2C134.2,79.6 137.2,81.2 140.2,82.5C143.2,83.8 146.0,85.2 149.0,86.2C152.0,87.2 154.4,88.0 158.3,88.6C162.2,89.2 170.1,89.8 172.5,90.0"/>
<path d="M50.0,68.4C51.7,68.5 57.2,68.5 60.0,68.8C62.8,69.1 64.5,69.6 67.0,70.1C69.5,70.6 72.5,71.3 75.3,71.8C78.1,72.3 80.5,72.7 83.8,73.0C87.1,73.3 91.6,73.3 95.0,73.5C98.4,73.7 101.0,73.7 104.0,74.0C107.0,74.3 110.0,74.8 113.0,75.5C116.0,76.2 119.0,77.3 122.0,78.5C125.0,79.7 128.2,81.3 131.2,82.8C134.2,84.3 137.2,85.8 140.2,87.3C143.2,88.8 146.2,90.3 149.2,91.5C152.2,92.7 155.7,93.8 158.3,94.5C160.9,95.2 162.6,95.5 165.0,95.8C167.4,96.1 171.2,96.0 172.5,96.1"/>
<path d="M50.0,75.2C51.7,75.3 57.2,75.4 60.0,75.6C62.8,75.8 64.5,75.9 67.0,76.4C69.5,77.0 72.5,77.9 75.3,78.9C78.1,79.9 81.3,81.2 83.8,82.3C86.2,83.4 87.2,84.6 90.0,85.5C92.8,86.4 98.1,87.2 100.8,87.8C103.5,88.4 104.5,88.4 106.3,89.0C108.1,89.6 109.9,90.4 111.7,91.5C113.5,92.6 115.2,94.2 117.0,95.6C118.8,96.9 120.4,98.2 122.5,99.6C124.6,101.0 127.1,102.4 129.7,104.0C132.3,105.6 135.8,108.0 138.3,109.3C140.8,110.6 142.5,111.7 144.8,112.0C147.1,112.3 149.5,111.5 152.0,111.2C154.5,111.0 156.6,110.8 160.0,110.5C163.4,110.2 170.4,109.8 172.5,109.7"/>
<path d="M50.0,92.7C51.7,92.7 57.2,92.6 60.0,92.6C62.8,92.5 64.5,92.7 67.0,92.4C69.5,92.1 72.5,91.4 75.3,90.7C78.1,90.0 81.0,89.2 83.8,88.2C86.6,87.2 89.4,85.5 92.2,84.6C95.0,83.7 98.5,83.1 100.8,82.8C103.1,82.5 104.5,82.4 106.3,82.6C108.1,82.8 109.9,83.2 111.7,84.0C113.5,84.8 115.2,86.3 117.0,87.6C118.8,88.9 120.7,90.5 122.5,92.0C124.3,93.5 126.1,94.7 128.0,96.3C129.9,97.9 131.9,99.5 134.0,101.5C136.1,103.5 138.7,106.2 140.5,108.0C142.3,109.8 144.1,111.3 144.8,112.0"/>
<path d="M50.0,85.6C51.7,85.7 56.7,85.9 60.0,86.4C63.3,86.9 67.0,87.7 70.0,88.5C73.0,89.3 75.3,90.2 78.0,91.5C80.7,92.8 83.2,94.2 86.0,96.0C88.8,97.8 92.0,99.8 95.0,102.5C98.0,105.2 101.2,109.2 104.0,112.5C106.8,115.8 109.6,119.1 112.0,122.0C114.4,124.9 116.5,127.7 118.5,130.0C120.5,132.3 122.2,134.2 124.0,136.0C125.8,137.8 127.3,138.7 129.4,140.5C131.5,142.3 133.9,144.9 136.6,147.1C139.3,149.3 142.6,151.9 145.6,153.6C148.6,155.3 153.2,156.8 154.7,157.5"/>
<path d="M50.0,82.3C52.5,82.5 60.0,82.8 65.0,83.5C70.0,84.2 75.8,85.1 80.0,86.5C84.2,87.9 87.2,90.1 90.0,92.0C92.8,93.9 94.0,95.7 97.0,98.0C100.0,100.3 104.2,104.1 108.0,106.0C111.8,107.9 116.4,108.5 120.0,109.2C123.6,110.0 126.3,109.6 129.7,110.5C133.1,111.4 137.1,113.3 140.5,114.8C143.9,116.3 147.1,118.0 150.0,119.5C152.9,121.0 155.5,122.4 158.0,123.5C160.5,124.6 162.6,125.5 165.0,126.0C167.4,126.5 171.2,126.7 172.5,126.8"/>
<path d="M80.0,106.0C81.3,106.5 85.5,108.1 88.0,109.0C90.5,109.9 92.3,110.7 95.0,111.3C97.7,111.9 101.0,112.3 104.0,112.8C107.0,113.3 110.0,113.6 113.0,114.2C116.0,114.8 119.0,115.5 122.0,116.3C125.0,117.0 128.2,117.8 131.2,118.7C134.2,119.6 137.0,120.6 140.0,121.5C143.0,122.4 146.1,123.3 149.2,124.2C152.2,125.1 155.7,126.4 158.3,126.9C160.9,127.4 162.6,127.2 165.0,127.2C167.4,127.2 171.2,127.2 172.5,127.2"/>
<path d="M50.0,97.8C51.8,98.0 57.8,98.1 60.8,98.9C63.8,99.7 65.4,100.5 68.1,102.5C70.8,104.5 74.1,108.0 77.1,110.7C80.1,113.4 83.2,116.2 86.2,118.8C89.2,121.4 92.2,124.1 95.2,126.6C98.2,129.1 101.0,131.6 104.0,133.8C107.0,136.0 110.1,138.5 113.1,139.9C116.1,141.3 119.5,141.9 122.1,142.1C124.7,142.3 126.4,142.1 128.5,141.3C130.6,140.5 132.6,138.5 134.8,137.4C137.1,136.3 139.6,135.3 142.0,134.5C144.4,133.7 146.5,133.3 149.2,132.7C151.9,132.1 155.3,131.4 158.3,130.8C161.3,130.2 164.9,129.5 167.3,129.2C169.7,128.9 171.6,128.9 172.5,128.8"/>
<path d="M110.0,143.2C110.8,143.6 113.0,144.3 115.0,145.6C117.0,146.9 119.4,149.0 122.1,150.8C124.8,152.6 128.2,154.9 131.2,156.3C134.2,157.8 137.2,158.9 140.2,159.5C143.2,160.1 146.2,160.1 149.2,159.9C152.2,159.7 155.7,158.6 158.3,158.1C160.9,157.6 162.6,157.3 165.0,157.0C167.4,156.7 171.2,156.4 172.5,156.3"/>
<path d="M50.0,164.3C51.7,164.1 57.0,163.5 60.0,163.0C63.0,162.5 65.3,161.9 68.1,161.1C70.9,160.3 74.0,159.2 77.0,158.0C80.0,156.8 83.5,155.1 86.2,153.8C88.9,152.6 90.6,151.7 93.0,150.5C95.4,149.3 98.1,147.7 100.6,146.6C103.1,145.5 105.8,144.6 107.9,144.0C110.0,143.4 112.2,143.3 113.0,143.2"/>
<path d="M50.0,185.5C51.7,185.4 57.0,185.3 60.0,185.0C63.0,184.7 65.3,184.4 68.1,183.7C70.9,182.9 74.0,181.9 77.0,180.5C80.0,179.1 83.2,177.3 86.2,175.5C89.2,173.7 92.0,171.6 95.0,169.5C98.0,167.4 101.2,165.1 104.2,162.9C107.2,160.8 110.3,158.5 113.3,156.6C116.3,154.7 120.8,152.3 122.3,151.5"/>
<path d="M118.0,125.5C119.3,125.8 123.7,126.9 126.0,127.5C128.3,128.1 130.0,128.5 132.0,129.0C134.0,129.5 135.7,129.9 138.0,130.5C140.3,131.1 143.7,131.9 146.0,132.5C148.3,133.1 149.9,133.4 152.0,134.0C154.1,134.6 156.1,135.2 158.3,136.0C160.5,136.8 162.6,137.7 165.0,138.5C167.4,139.3 171.2,140.6 172.5,141.0"/>
<path d="M143.0,111.5C143.8,111.8 146.0,112.8 148.0,113.2C150.0,113.6 152.5,113.8 155.0,114.0C157.5,114.2 160.1,114.2 163.0,114.2C165.9,114.2 170.9,114.2 172.5,114.2"/>
<path d="M118.5,132.0C119.4,133.0 122.2,136.2 124.0,138.0C125.8,139.8 127.3,140.7 129.4,142.5C131.5,144.3 133.9,146.6 136.6,148.6C139.3,150.6 142.6,153.1 145.6,154.6C148.6,156.1 153.2,157.0 154.7,157.5"/>
<path d="M80.0,84.5C81.0,85.4 84.0,88.1 86.0,90.0C88.0,91.9 89.7,93.8 92.0,96.0C94.3,98.2 97.7,100.9 100.0,103.0C102.3,105.1 103.9,106.6 106.0,108.5C108.1,110.4 110.5,112.6 112.5,114.4C114.5,116.2 116.1,117.7 118.0,119.5C119.9,121.3 123.0,124.1 124.0,125.0"/>
<path d="M50.0,45.9C52.0,45.9 58.3,46.0 62.0,46.2C65.7,46.4 68.7,46.6 72.0,47.1C75.3,47.6 79.0,47.6 82.0,49.4C85.0,51.2 87.5,56.2 90.0,58.0C92.5,59.8 95.8,59.7 97.0,60.0"/>
<path d="M50.0,49.5C52.0,49.5 58.3,49.6 62.0,49.8C65.7,50.0 68.7,50.3 72.0,50.8C75.3,51.3 79.0,51.3 82.0,52.6C85.0,53.9 87.5,57.3 90.0,58.6C92.5,59.9 95.8,60.2 97.0,60.5"/>
<path d="M50.0,53.1C52.0,53.1 58.3,53.2 62.0,53.4C65.7,53.6 68.7,54.1 72.0,54.5C75.3,54.9 79.0,55.0 82.0,55.8C85.0,56.6 87.5,58.3 90.0,59.2C92.5,60.1 95.8,60.7 97.0,61.0"/>
<path d="M50.0,56.4C52.0,56.4 58.3,56.4 62.0,56.7C65.7,56.9 68.7,57.6 72.0,57.9C75.3,58.2 79.0,58.4 82.0,58.7C85.0,59.0 87.5,59.3 90.0,59.8C92.5,60.3 95.8,61.2 97.0,61.5"/>
<path d="M50.0,59.5C52.0,59.5 58.3,59.5 62.0,59.8C65.7,60.1 68.7,60.8 72.0,61.1C75.3,61.4 79.0,61.5 82.0,61.4C85.0,61.3 87.5,60.3 90.0,60.4C92.5,60.5 95.8,61.7 97.0,62.0"/>
<path d="M50.0,102.5C51.7,102.7 56.7,102.8 60.0,103.5C63.3,104.2 66.7,104.9 70.0,106.5C73.3,108.1 76.7,110.4 80.0,113.0C83.3,115.6 86.7,119.2 90.0,122.0C93.3,124.8 97.0,127.5 100.0,130.0C103.0,132.5 106.7,135.8 108.0,137.0"/>
<path d="M50.0,106.1C51.7,106.3 56.7,106.5 60.0,107.1C63.3,107.7 66.7,108.3 70.0,109.8C73.3,111.2 76.7,113.4 80.0,115.8C83.3,118.2 86.7,121.6 90.0,124.2C93.3,126.8 97.0,129.2 100.0,131.5C103.0,133.8 106.7,136.8 108.0,137.8"/>
<path d="M50.0,109.8C51.7,110.0 56.7,110.2 60.0,110.8C63.3,111.4 66.7,111.9 70.0,113.2C73.3,114.5 76.7,116.4 80.0,118.6C83.3,120.8 86.7,124.0 90.0,126.4C93.3,128.8 97.0,131.0 100.0,133.0C103.0,135.0 106.7,137.7 108.0,138.6"/>
<path d="M50.0,113.4C51.7,113.6 56.7,113.9 60.0,114.4C63.3,114.9 66.7,115.3 70.0,116.5C73.3,117.7 76.7,119.4 80.0,121.4C83.3,123.4 86.7,126.4 90.0,128.6C93.3,130.8 97.0,132.7 100.0,134.5C103.0,136.3 106.7,138.6 108.0,139.4"/>
<path d="M50.0,116.6C51.7,116.8 56.7,117.1 60.0,117.6C63.3,118.1 66.7,118.3 70.0,119.4C73.3,120.5 76.7,122.3 80.0,124.2C83.3,126.1 86.7,128.8 90.0,130.8C93.3,132.8 97.0,134.4 100.0,136.0C103.0,137.6 106.7,139.5 108.0,140.2"/>
<path d="M50.0,168.3C51.7,168.1 57.0,167.7 60.0,167.2C63.0,166.7 65.3,166.2 68.1,165.4C70.9,164.6 74.0,163.5 77.0,162.3C80.0,161.0 83.2,159.4 86.2,157.9C89.2,156.4 92.0,154.8 95.0,153.3C98.0,151.8 101.2,150.1 104.2,148.8C107.2,147.6 111.5,146.3 113.0,145.8"/>
<path d="M50.0,171.9C51.7,171.8 57.0,171.4 60.0,170.9C63.0,170.5 65.3,170.0 68.1,169.2C70.9,168.4 74.0,167.4 77.0,166.1C80.0,164.8 83.2,163.2 86.2,161.6C89.2,160.0 92.0,158.3 95.0,156.7C98.0,155.1 101.2,153.2 104.2,151.8C107.2,150.3 111.5,148.7 113.0,148.1"/>
<path d="M50.0,175.5C51.7,175.4 57.0,175.1 60.0,174.7C63.0,174.3 65.3,173.9 68.1,173.1C70.9,172.3 74.0,171.2 77.0,169.9C80.0,168.6 83.2,166.9 86.2,165.3C89.2,163.7 92.0,161.9 95.0,160.1C98.0,158.3 101.2,156.3 104.2,154.7C107.2,153.1 111.5,151.1 113.0,150.4"/>
<path d="M50.0,179.1C51.7,179.0 57.0,178.8 60.0,178.4C63.0,178.0 65.3,177.7 68.1,176.9C70.9,176.1 74.0,175.1 77.0,173.8C80.0,172.4 83.2,170.7 86.2,169.0C89.2,167.3 92.0,165.4 95.0,163.5C98.0,161.6 101.2,159.5 104.2,157.7C107.2,155.9 111.5,153.5 113.0,152.7"/>
<path d="M50.0,181.9C51.7,181.8 57.0,181.6 60.0,181.3C63.0,180.9 65.3,180.6 68.1,179.9C70.9,179.1 74.0,178.0 77.0,176.7C80.0,175.3 83.2,173.6 86.2,171.8C89.2,170.0 92.0,168.1 95.0,166.1C98.0,164.1 101.2,161.9 104.2,159.9C107.2,158.0 111.5,155.4 113.0,154.5"/>
<path d="M50.0,79.2C51.7,79.3 56.7,79.3 60.0,79.7C63.3,80.1 66.7,80.6 70.0,81.4C73.3,82.2 76.7,83.4 80.0,84.7C83.3,86.0 86.7,87.6 90.0,89.2C93.3,90.8 97.0,92.5 100.0,94.2C103.0,95.9 106.7,98.4 108.0,99.2"/>
<path d="M50.0,83.0C51.7,83.1 56.7,83.1 60.0,83.5C63.3,83.9 66.7,84.5 70.0,85.2C73.3,85.9 76.7,86.8 80.0,87.9C83.3,89.0 86.7,90.4 90.0,91.8C93.3,93.2 97.0,94.7 100.0,96.2C103.0,97.7 106.7,99.9 108.0,100.6"/>
<path d="M50.0,86.6C51.7,86.7 56.7,86.7 60.0,87.1C63.3,87.5 66.7,88.2 70.0,88.8C73.3,89.4 76.7,90.0 80.0,90.9C83.3,91.8 86.7,93.0 90.0,94.2C93.3,95.4 97.0,96.7 100.0,98.0C103.0,99.3 106.7,101.2 108.0,101.8"/>
<path d="M50.0,89.6C51.7,89.7 56.7,89.7 60.0,90.1C63.3,90.5 66.7,91.3 70.0,91.8C73.3,92.3 76.7,92.6 80.0,93.3C83.3,94.0 86.7,95.0 90.0,96.0C93.3,97.0 97.0,98.1 100.0,99.2C103.0,100.3 106.7,101.9 108.0,102.4"/>
</g>
</defs>

<!-- Panel frames -->
<rect x="50" y="14.8" width="121.7" height="9" fill="#000"/>
<rect x="174.4" y="14.8" width="122.6" height="9" fill="#000"/>
<rect x="299.4" y="14.8" width="122.6" height="9" fill="#000"/>

<rect x="50" y="25.8" width="121.7" height="167.7" fill="#0c0000"/>
<g clip-path="url(#ca)"><use href="#bandsA"/></g>

<g clip-path="url(#cb)"><use href="#dataB"/></g>
<g clip-path="url(#cc)"><use href="#dataB" x="125"/><g mask="url(#vst)"><use href="#dotsA" x="249.5"/></g></g>

<!-- panel labels -->
<text x="147.5" y="186.6" font-size="13" fill="#ddd">(a)</text>
<text x="279" y="188" font-size="12.6" fill="#e8e8e8">(b)</text>
<text x="405.9" y="188.6" font-size="12.3" fill="#e8e8e8">(c)</text>

<!-- top labels -->
<g fill="#000" class="bk">
<text x="51.0" y="12.7" font-size="13.4">Γ</text><rect x="51" y="1" width="7.2" height="0.9"/>
<text x="162.2" y="12.7" font-size="13.2">K</text><rect x="162.9" y="1" width="6.8" height="0.8"/>
<text x="175.2" y="12.7" font-size="13.4">Γ</text><rect x="175.5" y="1" width="7.2" height="0.9"/>
<text x="286.4" y="12.7" font-size="13.2">K</text><rect x="287.1" y="1" width="6.8" height="0.8"/>
<text x="300.4" y="12.7" font-size="13.4">Γ</text><rect x="300.7" y="1" width="7.2" height="0.9"/>
<text x="412.1" y="12.7" font-size="13.2">K</text><rect x="412.8" y="1" width="6.8" height="0.8"/>
</g>

<!-- y axis -->
<g font-size="12.7" fill="#000" text-anchor="end" class="bk">
<text x="45" y="68">-2</text>
<text x="45" y="105">-4</text>
<text x="45" y="145.6">-6</text>
<text x="45" y="184.6">-8</text>
</g>
<g class="bk"><text x="31" y="28.7" font-size="12.2" fill="#000">E</text><text x="37.3" y="32.3" font-size="7.8" font-style="italic" fill="#000">F</text></g>
<g stroke="#999" stroke-width="0.8">
<line x1="46.5" y1="24.8" x2="50" y2="24.8"/>
<line x1="47" y1="63.4" x2="50" y2="63.4"/>
<line x1="47" y1="101" x2="50" y2="101"/>
<line x1="47" y1="140.7" x2="50" y2="140.7"/>
<line x1="47" y1="180" x2="50" y2="180"/>
</g>
<g font-size="12.4" fill="#000" class="bk">
<text transform="translate(11.7,182.5) rotate(-90)" textLength="86" lengthAdjust="spacing">Binding Energy</text>
<text transform="translate(11.7,93.6) rotate(-90)">E-E</text>
<text transform="translate(15.2,73.3) rotate(-90)" font-size="8">F</text>
<text transform="translate(11.7,59.2) rotate(-90)">(eV)</text>
</g>

<!-- x axis -->
<g font-size="12.9" fill="#000" text-anchor="middle" class="bk">
<text x="178.2" y="210.7">0.0</text>
<text x="213.6" y="210.7">0.4</text>
<text x="251.4" y="210.7">0.8</text>
<text x="285.8" y="210.7">1.2</text>
<text x="308" y="210.7">0.0</text>
<text x="339.1" y="210.7">0.4</text>
<text x="376.7" y="210.7">0.8</text>
<text x="413" y="210.7">1.2</text>
</g>
<g stroke="#bbb" stroke-width="0.7">
<line x1="174.8" y1="194" x2="174.8" y2="196.5"/><line x1="210.5" y1="194" x2="210.5" y2="196.5"/><line x1="250.5" y1="194" x2="250.5" y2="196.5"/><line x1="270.2" y1="194" x2="270.2" y2="196.5"/><line x1="289.1" y1="194" x2="289.1" y2="196.5"/>
<line x1="299.8" y1="194" x2="299.8" y2="196.5"/><line x1="335.5" y1="194" x2="335.5" y2="196.5"/><line x1="375.5" y1="194" x2="375.5" y2="196.5"/><line x1="395.2" y1="194" x2="395.2" y2="196.5"/><line x1="414.1" y1="194" x2="414.1" y2="196.5"/>
</g>
<g fill="#000" class="bk">
<text x="180.8" y="233.6" font-size="12.8">Wave Vector</text>
<text x="256.1" y="233.6" font-size="12.8">k</text>
<text x="262" y="235.6" font-size="8.5" font-style="italic">//</text>
<text x="275.2" y="233.6" font-size="12.8">(</text>
<text x="279" y="233.6" font-size="12.8">Å</text>
<text x="288" y="224.6" font-size="7">-1</text>
<text x="299.8" y="233.6" font-size="12.8">)</text>
</g>
</svg>
</body></html>
